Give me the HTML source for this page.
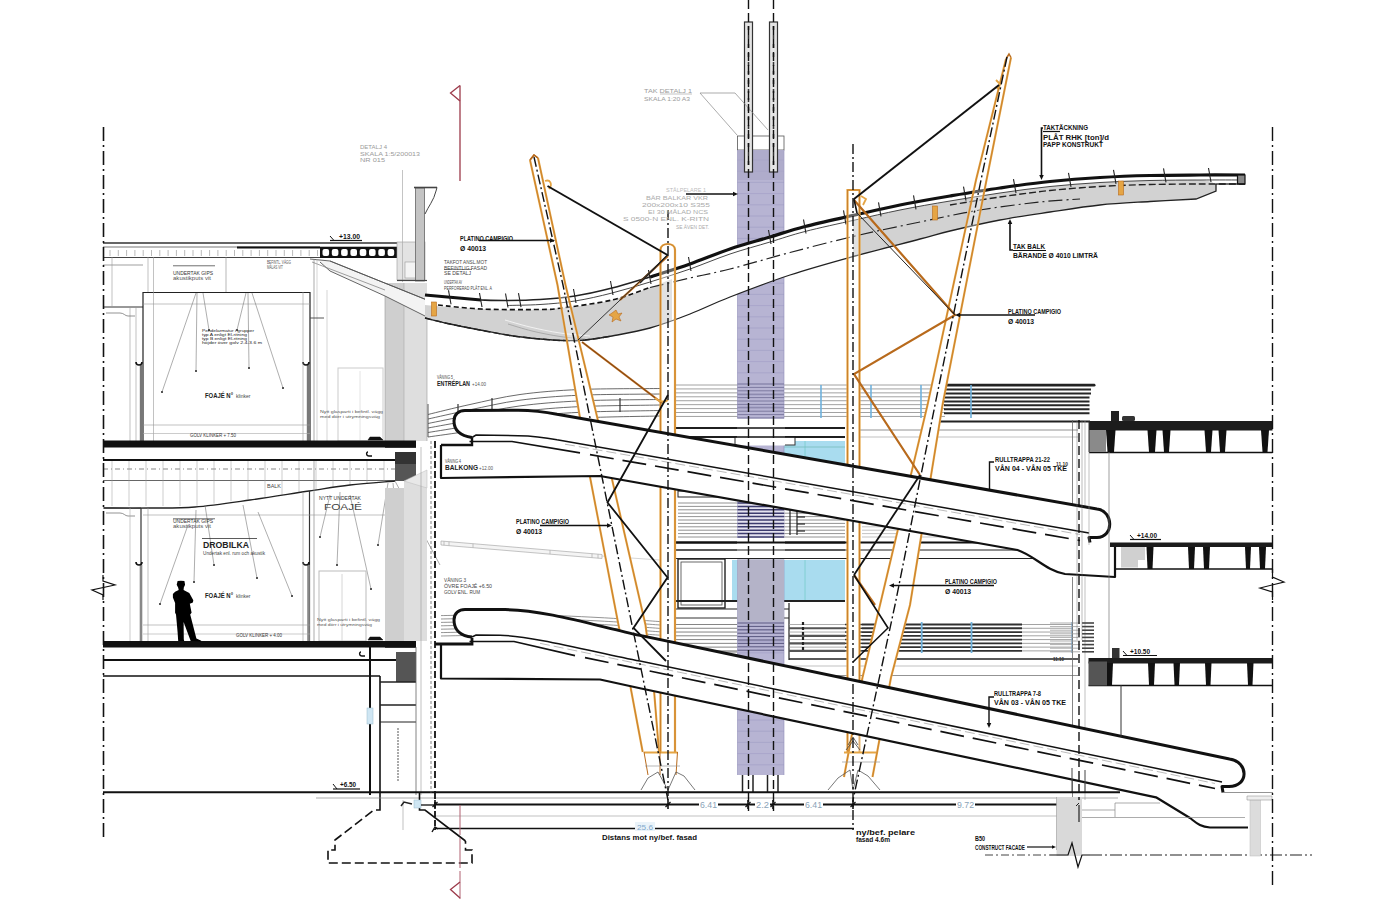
<!DOCTYPE html>
<html lang="sv"><head><meta charset="utf-8"><title>Sektion – rulltrappor och skärmtak</title>
<style>
html,body{margin:0;padding:0;background:#fff;}
body{width:1400px;height:900px;overflow:hidden;}
svg{display:block;}
svg text{font-family:"Liberation Sans",sans-serif;}
</style></head><body>
<svg width="1400" height="900" viewBox="0 0 1400 900">
<rect width="1400" height="900" fill="#fff"/>
<line x1="675" y1="385.0" x2="945" y2="385.0" stroke="#8a8a8a" stroke-width="0.8"/>
<line x1="675" y1="388.93" x2="945" y2="388.93" stroke="#8a8a8a" stroke-width="0.8"/>
<line x1="675" y1="392.86" x2="945" y2="392.86" stroke="#8a8a8a" stroke-width="0.8"/>
<line x1="675" y1="396.79" x2="945" y2="396.79" stroke="#8a8a8a" stroke-width="0.8"/>
<line x1="675" y1="400.72" x2="945" y2="400.72" stroke="#8a8a8a" stroke-width="0.8"/>
<line x1="675" y1="404.65" x2="945" y2="404.65" stroke="#8a8a8a" stroke-width="0.8"/>
<line x1="675" y1="408.58" x2="945" y2="408.58" stroke="#8a8a8a" stroke-width="0.8"/>
<line x1="675" y1="412.51" x2="945" y2="412.51" stroke="#8a8a8a" stroke-width="0.8"/>
<line x1="675" y1="416.44" x2="945" y2="416.44" stroke="#8a8a8a" stroke-width="0.8"/>
<rect x="944" y="383.8" width="151.5" height="2.8" fill="#222" stroke="none" stroke-width="1" rx="1.4"/>
<line x1="944" y1="389.6" x2="1091.0" y2="389.6" stroke="#262626" stroke-width="2.0"/>
<line x1="944" y1="393.53000000000003" x2="1091.0" y2="393.53000000000003" stroke="#262626" stroke-width="2.0"/>
<line x1="944" y1="397.46000000000004" x2="1089.5" y2="397.46000000000004" stroke="#262626" stroke-width="2.0"/>
<line x1="944" y1="401.39000000000004" x2="1089.5" y2="401.39000000000004" stroke="#262626" stroke-width="2.0"/>
<line x1="944" y1="405.32000000000005" x2="1089.5" y2="405.32000000000005" stroke="#262626" stroke-width="2.0"/>
<line x1="944" y1="409.25" x2="1089.5" y2="409.25" stroke="#262626" stroke-width="2.0"/>
<line x1="944" y1="413.18" x2="1089.5" y2="413.18" stroke="#262626" stroke-width="2.0"/>
<line x1="821" y1="385" x2="821" y2="418" stroke="#6fb1dc" stroke-width="1.6"/>
<line x1="871" y1="385" x2="871" y2="418" stroke="#6fb1dc" stroke-width="1.6"/>
<line x1="921" y1="385" x2="921" y2="418" stroke="#6fb1dc" stroke-width="1.6"/>
<line x1="971" y1="385" x2="971" y2="418" stroke="#6fb1dc" stroke-width="1.6"/>
<line x1="940" y1="421.5" x2="1090" y2="421.5" stroke="#222" stroke-width="2.2"/>
<line x1="675" y1="428" x2="845" y2="428" stroke="#111" stroke-width="1.6"/>
<line x1="675" y1="437" x2="845" y2="437" stroke="#111" stroke-width="1.6"/>
<line x1="860" y1="430" x2="1078" y2="430" stroke="#777" stroke-width="0.8"/>
<line x1="860" y1="437" x2="1078" y2="437" stroke="#999" stroke-width="0.6"/>
<rect x="784" y="441" width="61" height="30" fill="#a9dcef" stroke="none" stroke-width="1"/>
<line x1="805" y1="441" x2="805" y2="470" stroke="#7cc" stroke-width="0.8"/>
<line x1="784" y1="447" x2="845" y2="447" stroke="#7bb" stroke-width="0.8"/>
<rect x="735" y="437" width="60" height="8" fill="#fff" stroke="#333" stroke-width="1"/>
<line x1="678" y1="503.0" x2="845" y2="503.0" stroke="#777" stroke-width="0.8"/>
<line x1="678" y1="506.4" x2="845" y2="506.4" stroke="#777" stroke-width="0.8"/>
<line x1="678" y1="509.79999999999995" x2="845" y2="509.79999999999995" stroke="#777" stroke-width="0.8"/>
<line x1="678" y1="513.1999999999999" x2="845" y2="513.1999999999999" stroke="#777" stroke-width="0.8"/>
<line x1="678" y1="516.5999999999999" x2="845" y2="516.5999999999999" stroke="#777" stroke-width="0.8"/>
<line x1="678" y1="519.9999999999999" x2="845" y2="519.9999999999999" stroke="#777" stroke-width="0.8"/>
<line x1="678" y1="523.3999999999999" x2="845" y2="523.3999999999999" stroke="#777" stroke-width="0.8"/>
<line x1="678" y1="526.7999999999998" x2="845" y2="526.7999999999998" stroke="#777" stroke-width="0.8"/>
<line x1="678" y1="530.1999999999998" x2="845" y2="530.1999999999998" stroke="#777" stroke-width="0.8"/>
<line x1="678" y1="533.5999999999998" x2="845" y2="533.5999999999998" stroke="#777" stroke-width="0.8"/>
<line x1="678" y1="536.9999999999998" x2="845" y2="536.9999999999998" stroke="#777" stroke-width="0.8"/>
<line x1="862" y1="503.0" x2="1000" y2="503.0" stroke="#aaa" stroke-width="0.7"/>
<line x1="862" y1="506.4" x2="1000" y2="506.4" stroke="#aaa" stroke-width="0.7"/>
<line x1="862" y1="509.79999999999995" x2="1000" y2="509.79999999999995" stroke="#aaa" stroke-width="0.7"/>
<line x1="862" y1="513.1999999999999" x2="1000" y2="513.1999999999999" stroke="#aaa" stroke-width="0.7"/>
<line x1="862" y1="516.5999999999999" x2="1000" y2="516.5999999999999" stroke="#aaa" stroke-width="0.7"/>
<line x1="862" y1="519.9999999999999" x2="1000" y2="519.9999999999999" stroke="#aaa" stroke-width="0.7"/>
<line x1="862" y1="523.3999999999999" x2="1000" y2="523.3999999999999" stroke="#aaa" stroke-width="0.7"/>
<line x1="862" y1="526.7999999999998" x2="1000" y2="526.7999999999998" stroke="#aaa" stroke-width="0.7"/>
<line x1="862" y1="530.1999999999998" x2="1000" y2="530.1999999999998" stroke="#aaa" stroke-width="0.7"/>
<line x1="862" y1="533.5999999999998" x2="1000" y2="533.5999999999998" stroke="#aaa" stroke-width="0.7"/>
<line x1="862" y1="536.9999999999998" x2="1000" y2="536.9999999999998" stroke="#aaa" stroke-width="0.7"/>
<rect x="678" y="491" width="60" height="6" fill="#fff" stroke="#222" stroke-width="1"/>
<line x1="675" y1="542.5" x2="1002" y2="542.5" stroke="#111" stroke-width="1.8"/>
<line x1="675" y1="550" x2="1040" y2="550" stroke="#222" stroke-width="1.2"/>
<line x1="675" y1="558.5" x2="1090" y2="558.5" stroke="#222" stroke-width="1.2"/>
<line x1="790" y1="505" x2="790" y2="535" stroke="#222" stroke-width="1.2"/>
<line x1="797" y1="505" x2="797" y2="535" stroke="#222" stroke-width="1.2"/>
<line x1="797" y1="510" x2="805" y2="510" stroke="#222" stroke-width="1.2"/>
<line x1="797" y1="517" x2="805" y2="517" stroke="#222" stroke-width="1.2"/>
<line x1="797" y1="524" x2="805" y2="524" stroke="#222" stroke-width="1.2"/>
<line x1="797" y1="531" x2="805" y2="531" stroke="#222" stroke-width="1.2"/>
<rect x="678" y="559" width="47" height="49" fill="#fff" stroke="#222" stroke-width="1.4"/>
<rect x="681" y="562" width="41" height="43" fill="none" stroke="#444" stroke-width="0.8"/>
<rect x="732" y="560" width="6" height="40" fill="#a9dcef" stroke="none" stroke-width="1"/>
<rect x="784" y="560" width="61" height="40" fill="#a9dcef" stroke="none" stroke-width="1"/>
<line x1="805" y1="560" x2="805" y2="600" stroke="#7cc" stroke-width="0.8"/>
<line x1="675" y1="601" x2="845" y2="601" stroke="#222" stroke-width="2"/>
<line x1="675" y1="609" x2="845" y2="609" stroke="#222" stroke-width="1.2"/>
<line x1="675" y1="618" x2="845" y2="618" stroke="#333" stroke-width="1"/>
<rect x="789" y="603" width="56" height="50" fill="#fff" stroke="none" stroke-width="1"/>
<line x1="789" y1="603" x2="789" y2="660" stroke="#222" stroke-width="1.2"/>
<line x1="675" y1="624.5" x2="737" y2="624.5" stroke="#666" stroke-width="0.8"/>
<line x1="789" y1="624.5" x2="845" y2="624.5" stroke="#999" stroke-width="0.8"/>
<line x1="845" y1="624.5" x2="862" y2="624.5" stroke="#333" stroke-width="1.5"/>
<line x1="862" y1="624.5" x2="1022" y2="624.5" stroke="#303030" stroke-width="1.8"/>
<line x1="1022" y1="624.5" x2="1072" y2="624.5" stroke="#999" stroke-width="0.9"/>
<line x1="675" y1="628.27" x2="737" y2="628.27" stroke="#666" stroke-width="0.8"/>
<line x1="789" y1="628.27" x2="845" y2="628.27" stroke="#555" stroke-width="2.2"/>
<line x1="845" y1="628.27" x2="862" y2="628.27" stroke="#333" stroke-width="1.5"/>
<line x1="862" y1="628.27" x2="1022" y2="628.27" stroke="#303030" stroke-width="1.8"/>
<line x1="1022" y1="628.27" x2="1072" y2="628.27" stroke="#999" stroke-width="0.9"/>
<line x1="675" y1="632.04" x2="737" y2="632.04" stroke="#666" stroke-width="0.8"/>
<line x1="789" y1="632.04" x2="845" y2="632.04" stroke="#999" stroke-width="0.8"/>
<line x1="845" y1="632.04" x2="862" y2="632.04" stroke="#333" stroke-width="1.5"/>
<line x1="862" y1="632.04" x2="1022" y2="632.04" stroke="#303030" stroke-width="1.8"/>
<line x1="1022" y1="632.04" x2="1072" y2="632.04" stroke="#999" stroke-width="0.9"/>
<line x1="675" y1="635.81" x2="737" y2="635.81" stroke="#666" stroke-width="0.8"/>
<line x1="789" y1="635.81" x2="845" y2="635.81" stroke="#555" stroke-width="2.2"/>
<line x1="845" y1="635.81" x2="862" y2="635.81" stroke="#333" stroke-width="1.5"/>
<line x1="862" y1="635.81" x2="1022" y2="635.81" stroke="#303030" stroke-width="1.8"/>
<line x1="1022" y1="635.81" x2="1072" y2="635.81" stroke="#999" stroke-width="0.9"/>
<line x1="675" y1="639.58" x2="737" y2="639.58" stroke="#666" stroke-width="0.8"/>
<line x1="789" y1="639.58" x2="845" y2="639.58" stroke="#999" stroke-width="0.8"/>
<line x1="845" y1="639.58" x2="862" y2="639.58" stroke="#333" stroke-width="1.5"/>
<line x1="862" y1="639.58" x2="1022" y2="639.58" stroke="#303030" stroke-width="1.8"/>
<line x1="1022" y1="639.58" x2="1072" y2="639.58" stroke="#999" stroke-width="0.9"/>
<line x1="675" y1="643.35" x2="737" y2="643.35" stroke="#666" stroke-width="0.8"/>
<line x1="789" y1="643.35" x2="845" y2="643.35" stroke="#555" stroke-width="2.2"/>
<line x1="845" y1="643.35" x2="862" y2="643.35" stroke="#333" stroke-width="1.5"/>
<line x1="862" y1="643.35" x2="1022" y2="643.35" stroke="#303030" stroke-width="1.8"/>
<line x1="1022" y1="643.35" x2="1072" y2="643.35" stroke="#999" stroke-width="0.9"/>
<line x1="675" y1="647.12" x2="737" y2="647.12" stroke="#666" stroke-width="0.8"/>
<line x1="789" y1="647.12" x2="845" y2="647.12" stroke="#999" stroke-width="0.8"/>
<line x1="845" y1="647.12" x2="862" y2="647.12" stroke="#333" stroke-width="1.5"/>
<line x1="862" y1="647.12" x2="1022" y2="647.12" stroke="#303030" stroke-width="1.8"/>
<line x1="1022" y1="647.12" x2="1072" y2="647.12" stroke="#999" stroke-width="0.9"/>
<line x1="675" y1="650.89" x2="737" y2="650.89" stroke="#666" stroke-width="0.8"/>
<line x1="789" y1="650.89" x2="845" y2="650.89" stroke="#555" stroke-width="2.2"/>
<line x1="845" y1="650.89" x2="862" y2="650.89" stroke="#333" stroke-width="1.5"/>
<line x1="862" y1="650.89" x2="1022" y2="650.89" stroke="#303030" stroke-width="1.8"/>
<line x1="1022" y1="650.89" x2="1072" y2="650.89" stroke="#999" stroke-width="0.9"/>
<line x1="921.7" y1="622" x2="921.7" y2="653" stroke="#6fb1dc" stroke-width="1.8"/>
<line x1="971.5" y1="622" x2="971.5" y2="653" stroke="#6fb1dc" stroke-width="1.8"/>
<line x1="1072" y1="622" x2="1072" y2="653" stroke="#6fa0c8" stroke-width="1.2"/>
<line x1="803" y1="622" x2="803" y2="652" stroke="#222" stroke-width="2.2" stroke-dasharray="3 2"/>
<line x1="789" y1="659" x2="1078" y2="659" stroke="#222" stroke-width="1.5"/>
<line x1="789" y1="666" x2="1078" y2="666" stroke="#999" stroke-width="0.6"/>
<line x1="789" y1="675.5" x2="1078" y2="675.5" stroke="#777" stroke-width="0.8"/>
<line x1="1072.5" y1="420" x2="1072.5" y2="800" stroke="#666" stroke-width="0.8"/>
<line x1="1085" y1="420" x2="1085" y2="800" stroke="#999" stroke-width="0.6"/>
<line x1="1050" y1="623.0" x2="1080" y2="623.0" stroke="#999" stroke-width="0.8"/>
<line x1="1082" y1="623.0" x2="1094" y2="623.0" stroke="#444" stroke-width="1.6"/>
<line x1="1050" y1="626.6" x2="1080" y2="626.6" stroke="#999" stroke-width="0.8"/>
<line x1="1082" y1="626.6" x2="1094" y2="626.6" stroke="#444" stroke-width="1.6"/>
<line x1="1050" y1="630.2" x2="1080" y2="630.2" stroke="#999" stroke-width="0.8"/>
<line x1="1082" y1="630.2" x2="1094" y2="630.2" stroke="#444" stroke-width="1.6"/>
<line x1="1050" y1="633.8000000000001" x2="1080" y2="633.8000000000001" stroke="#999" stroke-width="0.8"/>
<line x1="1082" y1="633.8000000000001" x2="1094" y2="633.8000000000001" stroke="#444" stroke-width="1.6"/>
<line x1="1050" y1="637.4000000000001" x2="1080" y2="637.4000000000001" stroke="#999" stroke-width="0.8"/>
<line x1="1082" y1="637.4000000000001" x2="1094" y2="637.4000000000001" stroke="#444" stroke-width="1.6"/>
<line x1="1050" y1="641.0000000000001" x2="1080" y2="641.0000000000001" stroke="#999" stroke-width="0.8"/>
<line x1="1082" y1="641.0000000000001" x2="1094" y2="641.0000000000001" stroke="#444" stroke-width="1.6"/>
<line x1="1050" y1="644.6000000000001" x2="1080" y2="644.6000000000001" stroke="#999" stroke-width="0.8"/>
<line x1="1082" y1="644.6000000000001" x2="1094" y2="644.6000000000001" stroke="#444" stroke-width="1.6"/>
<line x1="1050" y1="648.2000000000002" x2="1080" y2="648.2000000000002" stroke="#999" stroke-width="0.8"/>
<line x1="1082" y1="648.2000000000002" x2="1094" y2="648.2000000000002" stroke="#444" stroke-width="1.6"/>
<line x1="1050" y1="651.8000000000002" x2="1080" y2="651.8000000000002" stroke="#999" stroke-width="0.8"/>
<line x1="1082" y1="651.8000000000002" x2="1094" y2="651.8000000000002" stroke="#444" stroke-width="1.6"/>
<line x1="675" y1="652" x2="737" y2="652" stroke="#666" stroke-width="0.8"/>
<rect x="737.5" y="136" width="46.5" height="14" fill="#fff" stroke="#555" stroke-width="0.8"/>
<rect x="737.5" y="150" width="46.5" height="625" fill="#b7b4d3" stroke="none" stroke-width="1"/>
<line x1="737.5" y1="160.0" x2="784" y2="160.0" stroke="#9f9cc4" stroke-width="0.6"/>
<line x1="737.5" y1="171.2" x2="784" y2="171.2" stroke="#9f9cc4" stroke-width="0.6"/>
<line x1="737.5" y1="182.39999999999998" x2="784" y2="182.39999999999998" stroke="#9f9cc4" stroke-width="0.6"/>
<line x1="737.5" y1="193.59999999999997" x2="784" y2="193.59999999999997" stroke="#9f9cc4" stroke-width="0.6"/>
<line x1="737.5" y1="204.79999999999995" x2="784" y2="204.79999999999995" stroke="#9f9cc4" stroke-width="0.6"/>
<line x1="737.5" y1="215.99999999999994" x2="784" y2="215.99999999999994" stroke="#9f9cc4" stroke-width="0.6"/>
<line x1="737.5" y1="227.19999999999993" x2="784" y2="227.19999999999993" stroke="#9f9cc4" stroke-width="0.6"/>
<line x1="737.5" y1="238.39999999999992" x2="784" y2="238.39999999999992" stroke="#9f9cc4" stroke-width="0.6"/>
<line x1="737.5" y1="249.5999999999999" x2="784" y2="249.5999999999999" stroke="#9f9cc4" stroke-width="0.6"/>
<line x1="737.5" y1="260.7999999999999" x2="784" y2="260.7999999999999" stroke="#9f9cc4" stroke-width="0.6"/>
<line x1="737.5" y1="271.9999999999999" x2="784" y2="271.9999999999999" stroke="#9f9cc4" stroke-width="0.6"/>
<line x1="737.5" y1="283.1999999999999" x2="784" y2="283.1999999999999" stroke="#9f9cc4" stroke-width="0.6"/>
<line x1="737.5" y1="294.39999999999986" x2="784" y2="294.39999999999986" stroke="#9f9cc4" stroke-width="0.6"/>
<line x1="737.5" y1="305.59999999999985" x2="784" y2="305.59999999999985" stroke="#9f9cc4" stroke-width="0.6"/>
<line x1="737.5" y1="316.79999999999984" x2="784" y2="316.79999999999984" stroke="#9f9cc4" stroke-width="0.6"/>
<line x1="737.5" y1="327.99999999999983" x2="784" y2="327.99999999999983" stroke="#9f9cc4" stroke-width="0.6"/>
<line x1="737.5" y1="339.1999999999998" x2="784" y2="339.1999999999998" stroke="#9f9cc4" stroke-width="0.6"/>
<line x1="737.5" y1="350.3999999999998" x2="784" y2="350.3999999999998" stroke="#9f9cc4" stroke-width="0.6"/>
<line x1="737.5" y1="361.5999999999998" x2="784" y2="361.5999999999998" stroke="#9f9cc4" stroke-width="0.6"/>
<line x1="737.5" y1="372.7999999999998" x2="784" y2="372.7999999999998" stroke="#9f9cc4" stroke-width="0.6"/>
<line x1="737.5" y1="383.9999999999998" x2="784" y2="383.9999999999998" stroke="#9f9cc4" stroke-width="0.6"/>
<line x1="737.5" y1="395.19999999999976" x2="784" y2="395.19999999999976" stroke="#9f9cc4" stroke-width="0.6"/>
<line x1="737.5" y1="406.39999999999975" x2="784" y2="406.39999999999975" stroke="#9f9cc4" stroke-width="0.6"/>
<line x1="737.5" y1="417.59999999999974" x2="784" y2="417.59999999999974" stroke="#9f9cc4" stroke-width="0.6"/>
<line x1="737.5" y1="428.7999999999997" x2="784" y2="428.7999999999997" stroke="#9f9cc4" stroke-width="0.6"/>
<line x1="737.5" y1="439.9999999999997" x2="784" y2="439.9999999999997" stroke="#9f9cc4" stroke-width="0.6"/>
<line x1="737.5" y1="451.1999999999997" x2="784" y2="451.1999999999997" stroke="#9f9cc4" stroke-width="0.6"/>
<line x1="737.5" y1="462.3999999999997" x2="784" y2="462.3999999999997" stroke="#9f9cc4" stroke-width="0.6"/>
<line x1="737.5" y1="473.5999999999997" x2="784" y2="473.5999999999997" stroke="#9f9cc4" stroke-width="0.6"/>
<line x1="737.5" y1="484.79999999999967" x2="784" y2="484.79999999999967" stroke="#9f9cc4" stroke-width="0.6"/>
<line x1="737.5" y1="495.99999999999966" x2="784" y2="495.99999999999966" stroke="#9f9cc4" stroke-width="0.6"/>
<line x1="737.5" y1="507.19999999999965" x2="784" y2="507.19999999999965" stroke="#9f9cc4" stroke-width="0.6"/>
<line x1="737.5" y1="518.3999999999996" x2="784" y2="518.3999999999996" stroke="#9f9cc4" stroke-width="0.6"/>
<line x1="737.5" y1="529.5999999999997" x2="784" y2="529.5999999999997" stroke="#9f9cc4" stroke-width="0.6"/>
<line x1="737.5" y1="540.7999999999997" x2="784" y2="540.7999999999997" stroke="#9f9cc4" stroke-width="0.6"/>
<line x1="737.5" y1="551.9999999999998" x2="784" y2="551.9999999999998" stroke="#9f9cc4" stroke-width="0.6"/>
<line x1="737.5" y1="563.1999999999998" x2="784" y2="563.1999999999998" stroke="#9f9cc4" stroke-width="0.6"/>
<line x1="737.5" y1="574.3999999999999" x2="784" y2="574.3999999999999" stroke="#9f9cc4" stroke-width="0.6"/>
<line x1="737.5" y1="585.5999999999999" x2="784" y2="585.5999999999999" stroke="#9f9cc4" stroke-width="0.6"/>
<line x1="737.5" y1="596.8" x2="784" y2="596.8" stroke="#9f9cc4" stroke-width="0.6"/>
<line x1="737.5" y1="608.0" x2="784" y2="608.0" stroke="#9f9cc4" stroke-width="0.6"/>
<line x1="737.5" y1="619.2" x2="784" y2="619.2" stroke="#9f9cc4" stroke-width="0.6"/>
<line x1="737.5" y1="630.4000000000001" x2="784" y2="630.4000000000001" stroke="#9f9cc4" stroke-width="0.6"/>
<line x1="737.5" y1="641.6000000000001" x2="784" y2="641.6000000000001" stroke="#9f9cc4" stroke-width="0.6"/>
<line x1="737.5" y1="652.8000000000002" x2="784" y2="652.8000000000002" stroke="#9f9cc4" stroke-width="0.6"/>
<line x1="737.5" y1="664.0000000000002" x2="784" y2="664.0000000000002" stroke="#9f9cc4" stroke-width="0.6"/>
<line x1="737.5" y1="675.2000000000003" x2="784" y2="675.2000000000003" stroke="#9f9cc4" stroke-width="0.6"/>
<line x1="737.5" y1="686.4000000000003" x2="784" y2="686.4000000000003" stroke="#9f9cc4" stroke-width="0.6"/>
<line x1="737.5" y1="697.6000000000004" x2="784" y2="697.6000000000004" stroke="#9f9cc4" stroke-width="0.6"/>
<line x1="737.5" y1="708.8000000000004" x2="784" y2="708.8000000000004" stroke="#9f9cc4" stroke-width="0.6"/>
<line x1="737.5" y1="720.0000000000005" x2="784" y2="720.0000000000005" stroke="#9f9cc4" stroke-width="0.6"/>
<line x1="737.5" y1="731.2000000000005" x2="784" y2="731.2000000000005" stroke="#9f9cc4" stroke-width="0.6"/>
<line x1="737.5" y1="742.4000000000005" x2="784" y2="742.4000000000005" stroke="#9f9cc4" stroke-width="0.6"/>
<line x1="737.5" y1="753.6000000000006" x2="784" y2="753.6000000000006" stroke="#9f9cc4" stroke-width="0.6"/>
<line x1="737.5" y1="764.8000000000006" x2="784" y2="764.8000000000006" stroke="#9f9cc4" stroke-width="0.6"/>
<line x1="737.5" y1="150" x2="737.5" y2="775" stroke="#908db8" stroke-width="0.6"/>
<line x1="784" y1="150" x2="784" y2="775" stroke="#908db8" stroke-width="0.6"/>
<rect x="737.5" y="150" width="46.5" height="30" fill="#aaa7c6" stroke="none" stroke-width="1" opacity="0.6"/>
<rect x="744.5" y="22" width="8" height="150" fill="#e4e4e4" stroke="#333" stroke-width="1.2"/>
<line x1="748.5" y1="26" x2="748.5" y2="170" stroke="#333" stroke-width="1.5" stroke-dasharray="4 5"/>
<rect x="769.5" y="22" width="8" height="150" fill="#e4e4e4" stroke="#333" stroke-width="1.2"/>
<line x1="773.5" y1="26" x2="773.5" y2="170" stroke="#333" stroke-width="1.5" stroke-dasharray="4 5"/>
<path d="M700,93 L735,93 L768,130" stroke="#888" stroke-width="0.7" fill="none"/>
<path d="M700,93 L737,135" stroke="#888" stroke-width="0.7" fill="none"/>
<line x1="742.5" y1="775" x2="742.5" y2="792" stroke="#222" stroke-width="1.5"/>
<line x1="753" y1="775" x2="753" y2="792" stroke="#222" stroke-width="1.5"/>
<line x1="767.5" y1="775" x2="767.5" y2="792" stroke="#222" stroke-width="1.5"/>
<line x1="778" y1="775" x2="778" y2="792" stroke="#222" stroke-width="1.5"/>
<rect x="737" y="418.5" width="48" height="27" fill="#fff" stroke="none" stroke-width="1"/>
<line x1="675" y1="428" x2="845" y2="428" stroke="#111" stroke-width="1.6"/>
<line x1="675" y1="437" x2="845" y2="437" stroke="#111" stroke-width="1.6"/>
<rect x="737" y="538" width="48" height="21.5" fill="#fff" stroke="none" stroke-width="1"/>
<line x1="675" y1="542.5" x2="845" y2="542.5" stroke="#111" stroke-width="1.8"/>
<line x1="675" y1="550" x2="845" y2="550" stroke="#222" stroke-width="1.2"/>
<line x1="675" y1="558.5" x2="845" y2="558.5" stroke="#222" stroke-width="1.2"/>
<rect x="737.5" y="500" width="46.5" height="38" fill="#e4e3f0" stroke="none" stroke-width="1"/>
<line x1="737.5" y1="384" x2="784" y2="384" stroke="#7d7aa0" stroke-width="1.0"/>
<line x1="737.5" y1="387.4" x2="784" y2="387.4" stroke="#7d7aa0" stroke-width="1.0"/>
<line x1="737.5" y1="390.79999999999995" x2="784" y2="390.79999999999995" stroke="#7d7aa0" stroke-width="1.0"/>
<line x1="737.5" y1="394.19999999999993" x2="784" y2="394.19999999999993" stroke="#7d7aa0" stroke-width="1.0"/>
<line x1="737.5" y1="397.5999999999999" x2="784" y2="397.5999999999999" stroke="#7d7aa0" stroke-width="1.0"/>
<line x1="737.5" y1="400.9999999999999" x2="784" y2="400.9999999999999" stroke="#7d7aa0" stroke-width="1.0"/>
<line x1="737.5" y1="404.39999999999986" x2="784" y2="404.39999999999986" stroke="#7d7aa0" stroke-width="1.0"/>
<line x1="737.5" y1="407.79999999999984" x2="784" y2="407.79999999999984" stroke="#7d7aa0" stroke-width="1.0"/>
<line x1="737.5" y1="411.1999999999998" x2="784" y2="411.1999999999998" stroke="#7d7aa0" stroke-width="1.0"/>
<line x1="737.5" y1="414.5999999999998" x2="784" y2="414.5999999999998" stroke="#7d7aa0" stroke-width="1.0"/>
<line x1="737.5" y1="417.9999999999998" x2="784" y2="417.9999999999998" stroke="#7d7aa0" stroke-width="1.0"/>
<line x1="737.5" y1="503" x2="784" y2="503" stroke="#3c3b6e" stroke-width="1.5"/>
<line x1="737.5" y1="506.4" x2="784" y2="506.4" stroke="#3c3b6e" stroke-width="1.5"/>
<line x1="737.5" y1="509.79999999999995" x2="784" y2="509.79999999999995" stroke="#3c3b6e" stroke-width="1.5"/>
<line x1="737.5" y1="513.1999999999999" x2="784" y2="513.1999999999999" stroke="#3c3b6e" stroke-width="1.5"/>
<line x1="737.5" y1="516.5999999999999" x2="784" y2="516.5999999999999" stroke="#3c3b6e" stroke-width="1.5"/>
<line x1="737.5" y1="519.9999999999999" x2="784" y2="519.9999999999999" stroke="#3c3b6e" stroke-width="1.5"/>
<line x1="737.5" y1="523.3999999999999" x2="784" y2="523.3999999999999" stroke="#3c3b6e" stroke-width="1.5"/>
<line x1="737.5" y1="526.7999999999998" x2="784" y2="526.7999999999998" stroke="#3c3b6e" stroke-width="1.5"/>
<line x1="737.5" y1="530.1999999999998" x2="784" y2="530.1999999999998" stroke="#3c3b6e" stroke-width="1.5"/>
<line x1="737.5" y1="533.5999999999998" x2="784" y2="533.5999999999998" stroke="#3c3b6e" stroke-width="1.5"/>
<line x1="737.5" y1="536.9999999999998" x2="784" y2="536.9999999999998" stroke="#3c3b6e" stroke-width="1.5"/>
<line x1="737.5" y1="623" x2="784" y2="623" stroke="#5a5880" stroke-width="1.0"/>
<line x1="737.5" y1="626.4" x2="784" y2="626.4" stroke="#5a5880" stroke-width="1.0"/>
<line x1="737.5" y1="629.8" x2="784" y2="629.8" stroke="#5a5880" stroke-width="1.0"/>
<line x1="737.5" y1="633.1999999999999" x2="784" y2="633.1999999999999" stroke="#5a5880" stroke-width="1.0"/>
<line x1="737.5" y1="636.5999999999999" x2="784" y2="636.5999999999999" stroke="#5a5880" stroke-width="1.0"/>
<line x1="737.5" y1="639.9999999999999" x2="784" y2="639.9999999999999" stroke="#5a5880" stroke-width="1.0"/>
<line x1="737.5" y1="643.3999999999999" x2="784" y2="643.3999999999999" stroke="#5a5880" stroke-width="1.0"/>
<line x1="737.5" y1="646.7999999999998" x2="784" y2="646.7999999999998" stroke="#5a5880" stroke-width="1.0"/>
<line x1="737.5" y1="650.1999999999998" x2="784" y2="650.1999999999998" stroke="#5a5880" stroke-width="1.0"/>
<rect x="737.5" y="559.5" width="46.5" height="62" fill="#b4b3c8" stroke="none" stroke-width="1"/>
<line x1="103" y1="243" x2="397" y2="243" stroke="#666" stroke-width="2"/>
<line x1="103" y1="247" x2="397" y2="247" stroke="#555" stroke-width="0.8"/>
<line x1="237" y1="247.5" x2="320" y2="247.5" stroke="#111" stroke-width="2.2"/>
<line x1="103" y1="257.5" x2="320" y2="257.5" stroke="#444" stroke-width="1"/>
<line x1="110" y1="250" x2="110" y2="256" stroke="#bbb" stroke-width="1"/>
<line x1="118.3" y1="250" x2="118.3" y2="256" stroke="#bbb" stroke-width="1"/>
<line x1="126.6" y1="250" x2="126.6" y2="256" stroke="#bbb" stroke-width="1"/>
<line x1="134.9" y1="250" x2="134.9" y2="256" stroke="#bbb" stroke-width="1"/>
<line x1="143.20000000000002" y1="250" x2="143.20000000000002" y2="256" stroke="#bbb" stroke-width="1"/>
<line x1="151.50000000000003" y1="250" x2="151.50000000000003" y2="256" stroke="#bbb" stroke-width="1"/>
<line x1="159.80000000000004" y1="250" x2="159.80000000000004" y2="256" stroke="#bbb" stroke-width="1"/>
<line x1="168.10000000000005" y1="250" x2="168.10000000000005" y2="256" stroke="#bbb" stroke-width="1"/>
<line x1="176.40000000000006" y1="250" x2="176.40000000000006" y2="256" stroke="#bbb" stroke-width="1"/>
<line x1="184.70000000000007" y1="250" x2="184.70000000000007" y2="256" stroke="#bbb" stroke-width="1"/>
<line x1="193.00000000000009" y1="250" x2="193.00000000000009" y2="256" stroke="#bbb" stroke-width="1"/>
<line x1="201.3000000000001" y1="250" x2="201.3000000000001" y2="256" stroke="#bbb" stroke-width="1"/>
<line x1="209.6000000000001" y1="250" x2="209.6000000000001" y2="256" stroke="#bbb" stroke-width="1"/>
<line x1="217.90000000000012" y1="250" x2="217.90000000000012" y2="256" stroke="#bbb" stroke-width="1"/>
<line x1="226.20000000000013" y1="250" x2="226.20000000000013" y2="256" stroke="#bbb" stroke-width="1"/>
<line x1="234.50000000000014" y1="250" x2="234.50000000000014" y2="256" stroke="#bbb" stroke-width="1"/>
<line x1="242.80000000000015" y1="250" x2="242.80000000000015" y2="256" stroke="#bbb" stroke-width="1"/>
<line x1="251.10000000000016" y1="250" x2="251.10000000000016" y2="256" stroke="#bbb" stroke-width="1"/>
<line x1="259.40000000000015" y1="250" x2="259.40000000000015" y2="256" stroke="#bbb" stroke-width="1"/>
<line x1="267.70000000000016" y1="250" x2="267.70000000000016" y2="256" stroke="#bbb" stroke-width="1"/>
<line x1="276.00000000000017" y1="250" x2="276.00000000000017" y2="256" stroke="#bbb" stroke-width="1"/>
<line x1="284.3000000000002" y1="250" x2="284.3000000000002" y2="256" stroke="#bbb" stroke-width="1"/>
<line x1="292.6000000000002" y1="250" x2="292.6000000000002" y2="256" stroke="#bbb" stroke-width="1"/>
<line x1="300.9000000000002" y1="250" x2="300.9000000000002" y2="256" stroke="#bbb" stroke-width="1"/>
<line x1="309.2000000000002" y1="250" x2="309.2000000000002" y2="256" stroke="#bbb" stroke-width="1"/>
<line x1="317.5000000000002" y1="250" x2="317.5000000000002" y2="256" stroke="#bbb" stroke-width="1"/>
<rect x="320" y="247" width="77" height="11" fill="#111" stroke="none" stroke-width="1"/>
<rect x="322.5" y="249" width="6.6" height="7" fill="#fff" stroke="none" stroke-width="1" rx="2"/>
<rect x="331.8" y="249" width="6.6" height="7" fill="#fff" stroke="none" stroke-width="1" rx="2"/>
<rect x="341.1" y="249" width="6.6" height="7" fill="#fff" stroke="none" stroke-width="1" rx="2"/>
<rect x="350.4" y="249" width="6.6" height="7" fill="#fff" stroke="none" stroke-width="1" rx="2"/>
<rect x="359.7" y="249" width="6.6" height="7" fill="#fff" stroke="none" stroke-width="1" rx="2"/>
<rect x="369.0" y="249" width="6.6" height="7" fill="#fff" stroke="none" stroke-width="1" rx="2"/>
<rect x="378.3" y="249" width="6.6" height="7" fill="#fff" stroke="none" stroke-width="1" rx="2"/>
<rect x="387.6" y="249" width="6.6" height="7" fill="#fff" stroke="none" stroke-width="1" rx="2"/>
<line x1="330" y1="240.5" x2="362" y2="240.5" stroke="#111" stroke-width="1.2"/>
<path d="M330,236 L334,240.5" stroke="#111" stroke-width="1" fill="none"/>
<text x="339" y="238.5" font-size="7" fill="#111" font-weight="bold" textLength="21" lengthAdjust="spacingAndGlyphs">+13.00</text>
<rect x="397" y="242" width="28" height="38" fill="#e3e3e3" stroke="#999" stroke-width="0.6"/>
<rect x="405" y="262" width="12" height="16" fill="#f4f4f4" stroke="#999" stroke-width="0.6"/>
<rect x="415.5" y="188" width="9" height="93" fill="#c4c4c4" stroke="#666" stroke-width="0.8"/>
<path d="M414,187.5 L437,187.5 L436,191 C434,200 428,207 425,214" stroke="#444" stroke-width="1" fill="none"/>
<line x1="414" y1="187.5" x2="437" y2="187.5" stroke="#444" stroke-width="1.6"/>
<line x1="402.5" y1="170" x2="402.5" y2="282" stroke="#aaa" stroke-width="0.7"/>
<line x1="397" y1="280.5" x2="427" y2="280.5" stroke="#444" stroke-width="1.2"/>
<rect x="385" y="283" width="19" height="158" fill="#cfcfcf" stroke="none" stroke-width="1"/>
<rect x="404" y="283" width="23" height="158" fill="#dedede" stroke="none" stroke-width="1"/>
<line x1="385" y1="283" x2="385" y2="441" stroke="#999" stroke-width="0.6"/>
<line x1="404" y1="283" x2="404" y2="441" stroke="#aaa" stroke-width="0.6"/>
<line x1="427" y1="320" x2="427" y2="441" stroke="#999" stroke-width="0.6"/>
<path d="M310,259 L330,261 L427,300 L427,317 L385,296 L330,271 L320,262" stroke="#555" stroke-width="0.9" fill="#f3f3f3"/>
<path d="M312,262 L385,290" stroke="#777" stroke-width="0.7" fill="none"/>
<path d="M330,261 L427,300" stroke="#555" stroke-width="0.9" fill="none"/>
<line x1="103" y1="265" x2="143" y2="265" stroke="#777" stroke-width="0.7"/>
<line x1="103" y1="307" x2="143" y2="307" stroke="#333" stroke-width="1"/>
<line x1="112" y1="257" x2="112" y2="307" stroke="#999" stroke-width="0.6"/>
<line x1="130" y1="307" x2="130" y2="441" stroke="#999" stroke-width="0.6"/>
<line x1="136" y1="307" x2="136" y2="441" stroke="#999" stroke-width="0.6"/>
<path d="M106,313 L120,313 C124,313 125,316 128,316 L135,316" stroke="#666" stroke-width="0.7" fill="none"/>
<path d="M143,441 L143,292.5 L310,292.5 L310,441" stroke="#222" stroke-width="1.2" fill="none"/>
<line x1="141" y1="365" x2="141" y2="441" stroke="#777" stroke-width="2.4"/>
<line x1="308" y1="365" x2="308" y2="441" stroke="#777" stroke-width="2.4"/>
<path d="M136,362 C136,366 142,366 142,362" stroke="#111" stroke-width="1.6" fill="none"/>
<path d="M303,362 C303,366 309,366 309,362" stroke="#111" stroke-width="1.6" fill="none"/>
<line x1="153.5" y1="257" x2="153.5" y2="441" stroke="#999" stroke-width="0.6"/>
<line x1="303" y1="292" x2="303" y2="441" stroke="#999" stroke-width="0.6"/>
<line x1="143" y1="304" x2="310" y2="304" stroke="#999" stroke-width="0.6"/>
<line x1="143" y1="425" x2="310" y2="425" stroke="#999" stroke-width="0.6"/>
<line x1="143" y1="433.5" x2="310" y2="433.5" stroke="#aaa" stroke-width="0.6"/>
<line x1="226" y1="257" x2="226" y2="292" stroke="#888" stroke-width="0.6"/>
<line x1="148" y1="257" x2="148" y2="292" stroke="#999" stroke-width="0.6"/>
<line x1="314" y1="259" x2="314" y2="441" stroke="#888" stroke-width="0.7"/>
<line x1="317" y1="259" x2="317" y2="441" stroke="#aaa" stroke-width="0.5"/>
<line x1="327" y1="290" x2="327" y2="441" stroke="#aaa" stroke-width="0.5"/>
<line x1="310" y1="318" x2="324" y2="318" stroke="#444" stroke-width="0.9"/>
<line x1="196" y1="293" x2="162" y2="392" stroke="#777" stroke-width="0.6"/>
<rect x="161" y="391" width="2" height="2" fill="#555" stroke="none" stroke-width="1"/>
<line x1="197" y1="293" x2="196" y2="371" stroke="#777" stroke-width="0.6"/>
<rect x="195" y="370" width="2" height="2" fill="#555" stroke="none" stroke-width="1"/>
<line x1="203" y1="293" x2="209" y2="330" stroke="#777" stroke-width="0.6"/>
<rect x="208" y="329" width="2" height="2" fill="#555" stroke="none" stroke-width="1"/>
<line x1="248" y1="293" x2="249" y2="368" stroke="#777" stroke-width="0.6"/>
<rect x="248" y="367" width="2" height="2" fill="#555" stroke="none" stroke-width="1"/>
<line x1="252" y1="293" x2="283" y2="388" stroke="#777" stroke-width="0.6"/>
<rect x="282" y="387" width="2" height="2" fill="#555" stroke="none" stroke-width="1"/>
<line x1="246" y1="293" x2="237" y2="330" stroke="#777" stroke-width="0.6"/>
<rect x="236" y="329" width="2" height="2" fill="#555" stroke="none" stroke-width="1"/>
<rect x="338" y="368" width="45" height="73" fill="none" stroke="#ccc" stroke-width="1"/>
<line x1="360" y1="371" x2="360" y2="441" stroke="#ddd" stroke-width="0.8"/>
<rect x="103" y="440.5" width="313" height="7" fill="#111" stroke="none" stroke-width="1"/>
<line x1="103" y1="460" x2="395" y2="460" stroke="#111" stroke-width="2"/>
<path d="M368,452 C366,452 366,456 369,456 L372,456" stroke="#111" stroke-width="1.4" fill="none"/>
<rect x="395" y="452" width="21" height="29" fill="#555" stroke="none" stroke-width="1"/>
<rect x="395" y="452" width="21" height="12" fill="#333" stroke="none" stroke-width="1"/>
<line x1="385" y1="447.5" x2="416" y2="447.5" stroke="#333" stroke-width="1"/>
<line x1="103" y1="469" x2="395" y2="469" stroke="#555" stroke-width="0.7" stroke-dasharray="5 3 1 3"/>
<line x1="103" y1="480.5" x2="395" y2="480.5" stroke="#666" stroke-width="1"/>
<line x1="112" y1="461" x2="112" y2="506.0" stroke="#999" stroke-width="0.5"/>
<line x1="129" y1="461" x2="129" y2="506.0" stroke="#999" stroke-width="0.5"/>
<line x1="146" y1="461" x2="146" y2="506.0" stroke="#999" stroke-width="0.5"/>
<line x1="163" y1="461" x2="163" y2="506.0" stroke="#999" stroke-width="0.5"/>
<line x1="180" y1="461" x2="180" y2="506.0" stroke="#999" stroke-width="0.5"/>
<line x1="197" y1="461" x2="197" y2="505.74" stroke="#999" stroke-width="0.5"/>
<line x1="214" y1="461" x2="214" y2="503.53" stroke="#999" stroke-width="0.5"/>
<line x1="231" y1="461" x2="231" y2="501.32" stroke="#999" stroke-width="0.5"/>
<line x1="248" y1="461" x2="248" y2="499.11" stroke="#999" stroke-width="0.5"/>
<line x1="265" y1="461" x2="265" y2="496.9" stroke="#999" stroke-width="0.5"/>
<line x1="282" y1="461" x2="282" y2="494.69" stroke="#999" stroke-width="0.5"/>
<line x1="299" y1="461" x2="299" y2="492.48" stroke="#999" stroke-width="0.5"/>
<line x1="316" y1="461" x2="316" y2="490.27" stroke="#999" stroke-width="0.5"/>
<line x1="333" y1="461" x2="333" y2="488.06" stroke="#999" stroke-width="0.5"/>
<line x1="350" y1="461" x2="350" y2="485.85" stroke="#999" stroke-width="0.5"/>
<line x1="367" y1="461" x2="367" y2="483.64" stroke="#999" stroke-width="0.5"/>
<line x1="384" y1="461" x2="384" y2="481.43" stroke="#999" stroke-width="0.5"/>
<path d="M104,508 C111.7,508.0 134.8,508.2 150,508 C165.2,507.8 178.3,508.3 195,507 C211.7,505.7 231.0,502.7 250,500 C269.0,497.3 292.3,493.5 309,491 C325.7,488.5 335.7,486.7 350,485 C364.3,483.3 387.5,481.7 395,481" stroke="#222" stroke-width="1.4" fill="none"/>
<line x1="103" y1="508" x2="141" y2="508" stroke="#333" stroke-width="1"/>
<path d="M106,513 L120,513 C124,513 125,516 128,516 L135,516" stroke="#666" stroke-width="0.7" fill="none"/>
<line x1="141" y1="508" x2="141" y2="641" stroke="#333" stroke-width="1.2"/>
<line x1="309.5" y1="491" x2="309.5" y2="641" stroke="#333" stroke-width="1.2"/>
<line x1="141" y1="565" x2="141" y2="641" stroke="#888" stroke-width="2.6"/>
<line x1="308.5" y1="565" x2="308.5" y2="641" stroke="#888" stroke-width="2.6"/>
<path d="M136,562 C136,566 142,566 142,562" stroke="#111" stroke-width="1.6" fill="none"/>
<path d="M303,562 C303,566 309,566 309,562" stroke="#111" stroke-width="1.6" fill="none"/>
<line x1="148" y1="508" x2="148" y2="641" stroke="#999" stroke-width="0.6"/>
<line x1="130" y1="508" x2="130" y2="641" stroke="#aaa" stroke-width="0.6"/>
<line x1="303" y1="492" x2="303" y2="641" stroke="#999" stroke-width="0.6"/>
<line x1="314" y1="461" x2="314" y2="641" stroke="#888" stroke-width="0.7"/>
<line x1="143" y1="515" x2="385" y2="515" stroke="#999" stroke-width="0.6"/>
<line x1="143" y1="625" x2="310" y2="625" stroke="#999" stroke-width="0.6"/>
<line x1="143" y1="634" x2="310" y2="634" stroke="#aaa" stroke-width="0.6"/>
<line x1="188" y1="525" x2="160" y2="604" stroke="#777" stroke-width="0.6"/>
<rect x="159" y="603" width="2" height="2" fill="#555" stroke="none" stroke-width="1"/>
<line x1="196" y1="510" x2="194" y2="582" stroke="#777" stroke-width="0.6"/>
<rect x="193" y="581" width="2" height="2" fill="#555" stroke="none" stroke-width="1"/>
<line x1="205" y1="505" x2="214" y2="565" stroke="#777" stroke-width="0.6"/>
<rect x="213" y="564" width="2" height="2" fill="#555" stroke="none" stroke-width="1"/>
<line x1="243" y1="505" x2="257" y2="578" stroke="#777" stroke-width="0.6"/>
<rect x="256" y="577" width="2" height="2" fill="#555" stroke="none" stroke-width="1"/>
<line x1="258" y1="512" x2="292" y2="596" stroke="#777" stroke-width="0.6"/>
<rect x="291" y="595" width="2" height="2" fill="#555" stroke="none" stroke-width="1"/>
<line x1="330" y1="495" x2="320" y2="537" stroke="#777" stroke-width="0.6"/>
<rect x="319" y="536" width="2" height="2" fill="#555" stroke="none" stroke-width="1"/>
<line x1="340" y1="492" x2="337" y2="565" stroke="#777" stroke-width="0.6"/>
<rect x="336" y="564" width="2" height="2" fill="#555" stroke="none" stroke-width="1"/>
<line x1="350" y1="495" x2="371" y2="589" stroke="#777" stroke-width="0.6"/>
<rect x="370" y="588" width="2" height="2" fill="#555" stroke="none" stroke-width="1"/>
<line x1="388" y1="483" x2="378" y2="545" stroke="#777" stroke-width="0.6"/>
<rect x="377" y="544" width="2" height="2" fill="#555" stroke="none" stroke-width="1"/>
<line x1="393" y1="483" x2="400" y2="560" stroke="#777" stroke-width="0.6"/>
<rect x="399" y="559" width="2" height="2" fill="#555" stroke="none" stroke-width="1"/>
<rect x="319" y="571" width="47" height="70" fill="none" stroke="#bbb" stroke-width="1"/>
<line x1="342" y1="574" x2="342" y2="641" stroke="#ccc" stroke-width="0.8"/>
<line x1="395" y1="481" x2="440" y2="565" stroke="#777" stroke-width="0.6"/>
<rect x="385" y="488" width="19" height="153" fill="#cfcfcf" stroke="none" stroke-width="1"/>
<rect x="404" y="481" width="23" height="160" fill="#dedede" stroke="none" stroke-width="1"/>
<path d="M404,481 L427,470 L427,488 Z" stroke="#bbb" stroke-width="0.5" fill="#e8e8e8"/>
<path d="M103,575 L103,581 L115,585 L92,590 L103,595 L103,600" stroke="#111" stroke-width="1.2" fill="none"/>
<rect x="103" y="641" width="313" height="6.5" fill="#111" stroke="none" stroke-width="1"/>
<line x1="103" y1="660" x2="400" y2="660" stroke="#111" stroke-width="2"/>
<line x1="103" y1="676" x2="380" y2="676" stroke="#111" stroke-width="1.6"/>
<path d="M361,652 C359,652 359,656 362,656 L365,656" stroke="#111" stroke-width="1.4" fill="none"/>
<rect x="396" y="652" width="20" height="30" fill="#555" stroke="none" stroke-width="1"/>
<line x1="385" y1="647.5" x2="416" y2="647.5" stroke="#333" stroke-width="1"/>
<path d="M368,640 L370,637 L380,637 L383,640 Z" stroke="#111" stroke-width="0.5" fill="#111"/>
<path d="M368,440 L370,437 L380,437 L383,440 Z" stroke="#111" stroke-width="0.5" fill="#111"/>
<line x1="370" y1="641" x2="370" y2="795" stroke="#111" stroke-width="2"/>
<line x1="380" y1="676" x2="380" y2="805" stroke="#111" stroke-width="1.6"/>
<line x1="380" y1="682" x2="416" y2="682" stroke="#222" stroke-width="1.4"/>
<line x1="380" y1="705" x2="416" y2="705" stroke="#222" stroke-width="1.4"/>
<line x1="380" y1="722" x2="416" y2="722" stroke="#222" stroke-width="1.2"/>
<line x1="416" y1="647" x2="416" y2="795" stroke="#666" stroke-width="0.8"/>
<line x1="421" y1="447" x2="421" y2="795" stroke="#999" stroke-width="0.6"/>
<rect x="367" y="708" width="6" height="16" fill="#cfe6f3" stroke="#9bc" stroke-width="0.5"/>
<line x1="398" y1="728" x2="398" y2="782" stroke="#aaa" stroke-width="2" stroke-dasharray="2 1"/>
<line x1="333" y1="789" x2="360" y2="789" stroke="#111" stroke-width="1.2"/>
<path d="M333,784 L337,789" stroke="#111" stroke-width="1" fill="none"/>
<text x="340" y="787" font-size="7" fill="#111" font-weight="bold" textLength="16" lengthAdjust="spacingAndGlyphs">+6.50</text>
<polygon points="180.9,580.7 184.4,581.1 185.1,584.7 183.8,587.6 183.6,590.0 189.3,593.1 193.3,600.2 192.9,602.4 189.8,603.8 191.6,612.7 190.2,614.4 196.4,638.4 201.3,640.7 200.9,641.6 190.7,641.1 183.6,622.0 183.8,639.3 184.2,641.1 178.2,641.1 177.6,632.2 176.0,614.4 175.1,612.7 175.1,602.9 172.9,597.6 172.9,594.0 175.1,591.8 178.7,590.0 178.2,587.8 176.7,584.7 177.6,581.1" fill="#000"/>
<path d="M428,437.0 C435.0,436.0 454.7,433.3 470,431.0 C485.3,428.7 501.7,425.2 520,423.0 C538.3,420.8 556.7,419.2 580,418.0 C603.3,416.8 646.7,416.3 660,416.0" stroke="#444" stroke-width="0.8" fill="none"/>
<path d="M428,432.5 C435.0,431.4 454.7,428.2 470,425.7 C485.3,423.2 501.7,419.5 520,417.3 C538.3,415.1 556.7,413.4 580,412.3 C603.3,411.2 646.7,410.8 660,410.5" stroke="#444" stroke-width="0.8" fill="none"/>
<path d="M428,428.0 C435.0,426.7 454.7,423.1 470,420.4 C485.3,417.7 501.7,413.9 520,411.6 C538.3,409.3 556.7,407.7 580,406.6 C603.3,405.5 646.7,405.3 660,405.0" stroke="#444" stroke-width="0.8" fill="none"/>
<path d="M428,423.5 C435.0,422.1 454.7,418.0 470,415.1 C485.3,412.2 501.7,408.3 520,405.9 C538.3,403.5 556.7,402.0 580,400.9 C603.3,399.8 646.7,399.7 660,399.5" stroke="#444" stroke-width="0.8" fill="none"/>
<path d="M428,419.0 C435.0,417.5 454.7,412.9 470,409.8 C485.3,406.7 501.7,402.6 520,400.2 C538.3,397.8 556.7,396.2 580,395.2 C603.3,394.2 646.7,394.2 660,394.0" stroke="#444" stroke-width="0.8" fill="none"/>
<path d="M428,414.5 C435.0,412.8 454.7,407.8 470,404.5 C485.3,401.2 501.7,397.0 520,394.5 C538.3,392.0 556.7,390.5 580,389.5 C603.3,388.5 646.7,388.7 660,388.5" stroke="#444" stroke-width="0.8" fill="none"/>
<line x1="458" y1="404" x2="458" y2="412" stroke="#333" stroke-width="1.2"/>
<line x1="492" y1="398" x2="492" y2="412" stroke="#333" stroke-width="1.2"/>
<line x1="583" y1="398" x2="583" y2="412" stroke="#333" stroke-width="1.2"/>
<line x1="620" y1="398" x2="620" y2="412" stroke="#333" stroke-width="1.2"/>
<path d="M441,636.0 C454.2,635.8 493.5,634.7 520,635.0 C546.5,635.3 576.7,636.8 600,638.0 C623.3,639.2 650.0,641.3 660,642.0" stroke="#666" stroke-width="0.7" fill="none"/>
<path d="M441,632.6 C454.2,632.4 493.5,631.3 520,631.6 C546.5,631.9 576.7,633.4 600,634.6 C623.3,635.8 650.0,637.9 660,638.6" stroke="#666" stroke-width="0.7" fill="none"/>
<path d="M441,629.2 C454.2,629.0 493.5,627.9 520,628.2 C546.5,628.5 576.7,630.0 600,631.2 C623.3,632.4 650.0,634.5 660,635.2" stroke="#666" stroke-width="0.7" fill="none"/>
<path d="M441,625.8 C454.2,625.6 493.5,624.5 520,624.8 C546.5,625.1 576.7,626.6 600,627.8 C623.3,629.0 650.0,631.1 660,631.8" stroke="#666" stroke-width="0.7" fill="none"/>
<path d="M441,622.4 C454.2,622.2 493.5,621.1 520,621.4 C546.5,621.7 576.7,623.2 600,624.4 C623.3,625.6 650.0,627.7 660,628.4" stroke="#666" stroke-width="0.7" fill="none"/>
<path d="M441,619.0 C454.2,618.8 493.5,617.7 520,618.0 C546.5,618.3 576.7,619.8 600,621.0 C623.3,622.2 650.0,624.3 660,625.0" stroke="#666" stroke-width="0.7" fill="none"/>
<path d="M441,615.6 C454.2,615.4 493.5,614.3 520,614.6 C546.5,614.9 576.7,616.4 600,617.6 C623.3,618.8 650.0,620.9 660,621.6" stroke="#666" stroke-width="0.7" fill="none"/>
<line x1="428" y1="404" x2="428" y2="437" stroke="#555" stroke-width="1"/>
<path d="M441,541 L602,554.5 L602,558.5 L441,545 Z" stroke="#aaa" stroke-width="0.7" fill="#f4f4f4"/>
<path d="M602,556 L660,560" stroke="#bbb" stroke-width="0.6" fill="none"/>
<line x1="444" y1="541.252" x2="444" y2="545.252" stroke="#aaa" stroke-width="0.7"/>
<line x1="449" y1="541.672" x2="449" y2="545.672" stroke="#aaa" stroke-width="0.7"/>
<line x1="473" y1="543.688" x2="473" y2="547.688" stroke="#aaa" stroke-width="0.7"/>
<line x1="550" y1="550.156" x2="550" y2="554.156" stroke="#aaa" stroke-width="0.7"/>
<line x1="592" y1="553.684" x2="592" y2="557.684" stroke="#aaa" stroke-width="0.7"/>
<line x1="598" y1="554.188" x2="598" y2="558.188" stroke="#aaa" stroke-width="0.7"/>
<path d="M530,160 L557.5,285 L590,477 L618.5,625 L630.7,688 L642.7,752 L659,752 L654,690 L645.5,625 L611.5,477 L565.5,285 L538,158 Z" stroke="none" stroke-width="0" fill="#fff"/>
<path d="M530,160 L534,155 L538,158" stroke="#b86a1c" stroke-width="1.5" fill="none"/>
<rect x="660.5" y="244" width="14.5" height="508" fill="#fff" stroke="none" stroke-width="1" opacity="1"/>
<rect x="847.5" y="190" width="12" height="562" fill="#fff" stroke="none" stroke-width="1"/>
<path d="M1006,59 L976,180 L927.5,405 L880,605 L862.5,677.5 L844,777 L872.5,777 L891,677.5 L910,605 L942.5,405 L986.5,180 L1011,57.5 Z" stroke="none" stroke-width="0" fill="#fff"/>
<path d="M425,295 C434.3,295.8 467.3,299.1 481,300 C494.7,300.9 497.2,300.6 507,300.5 C516.8,300.4 528.7,300.2 540,299.5 C551.3,298.8 563.0,297.9 575,296 C587.0,294.1 599.5,291.2 612,288 C624.5,284.8 637.0,281.0 650,277 C663.0,273.0 676.7,268.7 690,264 C703.3,259.3 716.7,253.5 730,249 C743.3,244.5 757.5,240.8 770,237 C782.5,233.2 790.8,230.2 805,226.5 C819.2,222.8 839.2,218.6 855,215 C870.8,211.4 884.2,208.2 900,205 C915.8,201.8 933.3,198.8 950,196 C966.7,193.2 983.3,190.4 1000,188 C1016.7,185.6 1033.3,183.2 1050,181.5 C1066.7,179.8 1083.3,178.5 1100,177.5 C1116.7,176.5 1133.3,175.9 1150,175.5 C1166.7,175.1 1184.2,175.1 1200,175 C1215.8,174.9 1237.5,175.0 1245,175 L1245,184 L1216,184 L1216,191 L1196,199  C1188.3,199.4 1166.0,200.5 1150,201.5 C1134.0,202.5 1116.7,203.2 1100,205 C1083.3,206.8 1066.7,209.5 1050,212 C1033.3,214.5 1016.7,216.8 1000,220 C983.3,223.2 963.3,227.8 950,231 C936.7,234.2 935.8,234.8 920,239 C904.2,243.2 876.7,250.0 855,256 C833.3,262.0 810.8,268.2 790,275 C769.2,281.8 746.7,290.5 730,297 C713.3,303.5 703.3,308.8 690,314 C676.7,319.2 663.0,324.3 650,328 C637.0,331.7 622.8,334.0 612,336 C601.2,338.0 593.3,339.2 585,340 C576.7,340.8 569.5,340.7 562,340.5 C554.5,340.3 548.7,339.8 540,339 C531.3,338.2 520.0,337.0 510,335.5 C500.0,334.0 490.0,331.9 480,330 C470.0,328.1 459.2,326.0 450,324 C440.8,322.0 429.2,319.0 425,318 Z" stroke="none" stroke-width="0" fill="#fff"/>
<path d="M425,305 C430.0,305.4 445.7,306.8 455,307.5 C464.3,308.2 472.3,308.6 481,309 C489.7,309.4 497.2,309.9 507,310 C516.8,310.1 530.8,309.8 540,309.5 C549.2,309.2 553.7,308.8 562,308 C570.3,307.2 581.7,305.8 590,304.5 C598.3,303.2 604.5,301.9 612,300 C619.5,298.1 628.7,295.1 635,293 C641.3,290.9 643.8,289.8 650,287.5 C656.2,285.2 668.3,280.4 672,279 L672,320.3  C668.3,321.6 660.0,325.4 650,328 C640.0,330.6 622.8,334.0 612,336 C601.2,338.0 593.3,339.2 585,340 C576.7,340.8 569.5,340.7 562,340.5 C554.5,340.3 548.7,339.8 540,339 C531.3,338.2 520.0,337.0 510,335.5 C500.0,334.0 490.0,331.9 480,330 C470.0,328.1 459.2,326.0 450,324 C440.8,322.0 429.2,319.0 425,318 Z" stroke="none" stroke-width="0" fill="#d2d2d2"/>
<path d="M853,220.46 C853.3,220.4 847.2,221.7 855,220 C862.8,218.3 884.2,213.2 900,210 C915.8,206.8 933.3,203.8 950,201 C966.7,198.2 983.3,195.4 1000,193 C1016.7,190.6 1033.3,188.2 1050,186.5 C1066.7,184.8 1083.3,183.5 1100,182.5 C1116.7,181.5 1133.3,180.9 1150,180.5 C1166.7,180.1 1189.0,179.4 1200,180 C1211.0,180.6 1213.3,183.3 1216,184 L1216,191 L1196,199  C1188.3,199.4 1166.0,200.5 1150,201.5 C1134.0,202.5 1116.7,203.2 1100,205 C1083.3,206.8 1066.7,209.5 1050,212 C1033.3,214.5 1016.7,216.8 1000,220 C983.3,223.2 963.3,227.8 950,231 C936.7,234.2 935.8,234.8 920,239 C904.2,243.2 866.2,253.1 855,256 C843.8,258.9 853.3,256.5 853,256.5846153846154 Z" stroke="none" stroke-width="0" fill="#d2d2d2"/>
<path d="M425,318 C429.2,319.0 440.8,322.0 450,324 C459.2,326.0 470.0,328.1 480,330 C490.0,331.9 500.0,334.0 510,335.5 C520.0,337.0 531.3,338.2 540,339 C548.7,339.8 554.5,340.3 562,340.5 C569.5,340.7 576.7,340.8 585,340 C593.3,339.2 601.2,338.0 612,336 C622.8,334.0 637.0,331.7 650,328 C663.0,324.3 676.7,319.2 690,314 C703.3,308.8 713.3,303.5 730,297 C746.7,290.5 769.2,281.8 790,275 C810.8,268.2 833.3,262.0 855,256 C876.7,250.0 904.2,243.2 920,239 C935.8,234.8 936.7,234.2 950,231 C963.3,227.8 983.3,223.2 1000,220 C1016.7,216.8 1033.3,214.5 1050,212 C1066.7,209.5 1083.3,206.8 1100,205 C1116.7,203.2 1134.0,202.5 1150,201.5 C1166.0,200.5 1188.3,199.4 1196,199 L1216,191 L1216,184" stroke="#222" stroke-width="1.3" fill="none"/>
<path d="M425,318 C429.2,319.0 440.8,322.0 450,324 C459.2,326.0 470.0,328.1 480,330 C490.0,331.9 500.0,334.0 510,335.5 C520.0,337.0 531.3,338.2 540,339 C548.7,339.8 554.5,340.3 562,340.5 C569.5,340.7 576.7,340.8 585,340 C593.3,339.2 607.5,336.7 612,336" stroke="#222" stroke-width="1.4" fill="none" stroke-dasharray="7 3"/>
<path d="M425,295 C434.3,295.8 471.7,299.2 481,300" stroke="#111" stroke-width="3" fill="none"/>
<path d="M481,300 C485.3,300.1 497.2,300.6 507,300.5 C516.8,300.4 528.7,300.2 540,299.5 C551.3,298.8 563.0,297.9 575,296 C587.0,294.1 599.5,291.2 612,288 C624.5,284.8 643.7,278.8 650,277" stroke="#222" stroke-width="1.6" fill="none"/>
<path d="M650,277 C656.7,274.8 676.7,268.7 690,264 C703.3,259.3 716.7,253.5 730,249 C743.3,244.5 757.5,240.8 770,237 C782.5,233.2 790.8,230.2 805,226.5 C819.2,222.8 839.2,218.6 855,215 C870.8,211.4 884.2,208.2 900,205 C915.8,201.8 933.3,198.8 950,196 C966.7,193.2 983.3,190.4 1000,188 C1016.7,185.6 1033.3,183.2 1050,181.5 C1066.7,179.8 1083.3,178.5 1100,177.5 C1116.7,176.5 1133.3,175.9 1150,175.5 C1166.7,175.1 1184.2,175.1 1200,175 C1215.8,174.9 1237.5,175.0 1245,175" stroke="#111" stroke-width="3.2" fill="none"/>
<path d="M507,305.5 C512.5,305.3 528.7,305.2 540,304.5 C551.3,303.8 563.0,302.9 575,301 C587.0,299.1 599.5,296.2 612,293 C624.5,289.8 637.0,286.0 650,282 C663.0,278.0 676.7,273.7 690,269 C703.3,264.3 716.7,258.5 730,254 C743.3,249.5 757.5,245.8 770,242 C782.5,238.2 790.8,235.2 805,231.5 C819.2,227.8 839.2,223.6 855,220 C870.8,216.4 884.2,213.2 900,210 C915.8,206.8 933.3,203.8 950,201 C966.7,198.2 983.3,195.4 1000,193 C1016.7,190.6 1033.3,188.2 1050,186.5 C1066.7,184.8 1083.3,183.5 1100,182.5 C1116.7,181.5 1133.3,180.9 1150,180.5 C1166.7,180.1 1184.2,180.1 1200,180 C1215.8,179.9 1237.5,180.0 1245,180" stroke="#333" stroke-width="0.9" fill="none"/>
<path d="M438,305 C445.2,305.7 464.0,308.2 481,309 C498.0,309.8 526.5,309.7 540,309.5 C553.5,309.3 550.0,309.6 562,308 C574.0,306.4 597.3,303.4 612,300 C626.7,296.6 643.7,289.6 650,287.5" stroke="#111" stroke-width="1.6" fill="none" stroke-dasharray="5 3"/>
<path d="M650,287.5 C656.7,285.9 676.7,281.1 690,278 C703.3,274.9 713.3,273.2 730,269 C746.7,264.8 769.2,258.0 790,252.5 C810.8,247.0 833.3,241.1 855,236 C876.7,230.9 899.2,226.3 920,222 C940.8,217.7 960.0,213.3 980,210 C1000.0,206.7 1023.3,203.8 1040,202 C1056.7,200.2 1073.3,199.5 1080,199" stroke="#222" stroke-width="1.2" fill="none" stroke-dasharray="14 4 2 4"/>
<path d="M950,205 C958.3,203.7 983.3,199.4 1000,197 C1016.7,194.6 1033.3,192.2 1050,190.5 C1066.7,188.8 1083.3,187.5 1100,186.5 C1116.7,185.5 1133.3,184.9 1150,184.5 C1166.7,184.1 1184.2,184.1 1200,184 C1215.8,183.9 1237.5,184.0 1245,184" stroke="#222" stroke-width="1.4" fill="none" stroke-dasharray="7 3"/>
<rect x="1237.5" y="175" width="7.5" height="9" fill="#888" stroke="#111" stroke-width="1.2"/>
<line x1="1216" y1="184" x2="1245" y2="184" stroke="#111" stroke-width="1.2"/>
<line x1="448.5" y1="290.23214285714283" x2="451" y2="304.23214285714283" stroke="#222" stroke-width="1.1"/>
<line x1="479.5" y1="293.0" x2="482" y2="307.0" stroke="#222" stroke-width="1.1"/>
<line x1="505.5" y1="293.5" x2="508" y2="307.5" stroke="#222" stroke-width="1.1"/>
<line x1="518.5" y1="293.1060606060606" x2="521" y2="307.1060606060606" stroke="#222" stroke-width="1.1"/>
<line x1="573.5" y1="289.0" x2="576" y2="303.0" stroke="#222" stroke-width="1.1"/>
<line x1="610.5" y1="281.0" x2="613" y2="295.0" stroke="#222" stroke-width="1.1"/>
<line x1="648.5" y1="270.0" x2="651" y2="284.0" stroke="#222" stroke-width="1.1"/>
<line x1="688.5" y1="257.0" x2="691" y2="271.0" stroke="#222" stroke-width="1.1"/>
<line x1="768.5" y1="230.0" x2="771" y2="244.0" stroke="#222" stroke-width="1.1"/>
<line x1="803.5" y1="219.5" x2="806" y2="233.5" stroke="#222" stroke-width="1.1"/>
<line x1="843.5" y1="210.3" x2="846" y2="224.3" stroke="#222" stroke-width="1.1"/>
<line x1="878.5" y1="202.44444444444446" x2="881" y2="216.44444444444446" stroke="#222" stroke-width="1.1"/>
<line x1="913.5" y1="195.3" x2="916" y2="209.3" stroke="#222" stroke-width="1.1"/>
<line x1="963.5" y1="186.6" x2="966" y2="200.6" stroke="#222" stroke-width="1.1"/>
<line x1="1013.5" y1="179.05" x2="1016" y2="193.05" stroke="#222" stroke-width="1.1"/>
<line x1="1068.5" y1="172.9" x2="1071" y2="186.9" stroke="#222" stroke-width="1.1"/>
<line x1="1113.5" y1="169.9" x2="1116" y2="183.9" stroke="#222" stroke-width="1.1"/>
<line x1="1163.5" y1="168.35" x2="1166" y2="182.35" stroke="#222" stroke-width="1.1"/>
<line x1="1208.5" y1="168.0" x2="1211" y2="182.0" stroke="#222" stroke-width="1.1"/>
<rect x="431.5" y="302" width="5" height="14" fill="#e5a545" stroke="#b86a1c" stroke-width="0.6"/>
<rect x="932.5" y="206" width="5" height="14" fill="#e5a545" stroke="#b86a1c" stroke-width="0.6"/>
<rect x="1118.5" y="181" width="5" height="14" fill="#e5a545" stroke="#b86a1c" stroke-width="0.6"/>
<path d="M612,313 l4,-3 l2,4 l4,-1 l-3,4 l2,4 l-5,-2 l-4,3 l1,-5 l-4,-2 z" stroke="#b86a1c" stroke-width="0.6" fill="#e5a545"/>
<path d="M505,320 C509.2,321.2 520.8,324.8 530,327 C539.2,329.2 550.0,331.5 560,333 C570.0,334.5 585.0,335.5 590,336" stroke="#fff" stroke-width="0.7" fill="none"/>
<path d="M508,324 C512.0,325.2 523.3,328.9 532,331 C540.7,333.1 551.2,335.2 560,336.5 C568.8,337.8 580.8,338.6 585,339" stroke="#999" stroke-width="0.7" fill="none"/>
<path d="M530,160 L557.5,285 L590,477 L618.5,625 L630.7,688 L642.7,752 L659,752 L654,690 L645.5,625 L611.5,477 L565.5,285 L538,158 Z" stroke="none" stroke-width="0" fill="#fff" opacity="0.35"/>
<path d="M530,160 L557.5,285 L590,477 L618.5,625 L630.7,688 L642.7,752" stroke="#e5a545" stroke-width="2.1" fill="none"/>
<path d="M538,158 L565.5,285 L611.5,477 L645.5,625 L654,690 L659,752" stroke="#e5a545" stroke-width="2.1" fill="none"/>
<path d="M530,160 L557.5,285 L590,477 L618.5,625 L630.7,688 L642.7,752" stroke="#b86a1c" stroke-width="0.6" fill="none"/>
<path d="M538,158 L565.5,285 L611.5,477 L645.5,625 L654,690 L659,752" stroke="#b86a1c" stroke-width="0.6" fill="none"/>
<path d="M530,160 L534,155 L538,158" stroke="#b86a1c" stroke-width="1.5" fill="none"/>
<rect x="660.5" y="244" width="14.5" height="508" fill="#fff" stroke="none" stroke-width="1" opacity="0.35"/>
<path d="M660.5,752 L660.5,250 C660.5,242 675,242 675,250 L675,752" stroke="#e5a545" stroke-width="2.2" fill="none"/>
<path d="M660.5,752 L660.5,250 C660.5,242 675,242 675,250 L675,752" stroke="#b86a1c" stroke-width="0.6" fill="none"/>
<line x1="644" y1="752.5" x2="677.5" y2="752.5" stroke="#e5a545" stroke-width="2"/>
<path d="M644,752 L648,775 M660,752 L660,775 M677.5,752 L676,775" stroke="#b86a1c" stroke-width="1" fill="none"/>
<path d="M641,790 L648,778 L658,772 L668,790 M668,790 L676,772 L684,776 L695,790" stroke="#555" stroke-width="0.8" fill="none"/>
<line x1="645" y1="766" x2="680" y2="766" stroke="#999" stroke-width="0.7"/>
<rect x="847.5" y="190" width="12" height="562" fill="#fff" stroke="none" stroke-width="1" opacity="0.35"/>
<path d="M847.5,752 L847.5,190 L859.5,190 L859.5,752" stroke="#e5a545" stroke-width="2.2" fill="none"/>
<path d="M847.5,752 L847.5,190 L859.5,190 L859.5,752" stroke="#b86a1c" stroke-width="0.6" fill="none"/>
<path d="M1006,59 L976,180 L927.5,405 L880,605 L862.5,677.5 L844,777 L872.5,777 L891,677.5 L910,605 L942.5,405 L986.5,180 L1011,57.5 Z" stroke="none" stroke-width="0" fill="#fff" opacity="0.35"/>
<path d="M1006,59 L976,180 L927.5,405 L880,605 L862.5,677.5 L844,777" stroke="#e5a545" stroke-width="2.1" fill="none"/>
<path d="M1011,57.5 L986.5,180 L942.5,405 L910,605 L891,677.5 L872.5,777" stroke="#e5a545" stroke-width="2.1" fill="none"/>
<path d="M1006,59 L976,180 L927.5,405 L880,605 L862.5,677.5 L844,777" stroke="#b86a1c" stroke-width="0.6" fill="none"/>
<path d="M1011,57.5 L986.5,180 L942.5,405 L910,605 L891,677.5 L872.5,777" stroke="#b86a1c" stroke-width="0.6" fill="none"/>
<path d="M1006,59 L1009,54 L1011,57.5" stroke="#b86a1c" stroke-width="1.5" fill="none"/>
<line x1="844" y1="752.5" x2="876" y2="752.5" stroke="#e5a545" stroke-width="2"/>
<line x1="842" y1="762" x2="880" y2="762" stroke="#999" stroke-width="0.7"/>
<path d="M828,790 L838,778 L850,770 L853,790 M853,790 L858,770 L868,776 L880,790" stroke="#555" stroke-width="0.8" fill="none"/>
<path d="M848,745 L853,737 L858,745 M846,750 L853,741 L860,750" stroke="#444" stroke-width="0.8" fill="none"/>
<path d="M582,342 L662,403" stroke="#b86a1c" stroke-width="2.2" fill="none"/>
<path d="M582,342 L662,403" stroke="#7a3d10" stroke-width="0.8" fill="none"/>
<path d="M668,256 L620,300" stroke="#b86a1c" stroke-width="2" fill="none"/>
<path d="M854,200 L955,315 L854,374 L920,475" stroke="#b86a1c" stroke-width="2.2" fill="none"/>
<path d="M854,575 L875,605" stroke="#b86a1c" stroke-width="2.2" fill="none"/>
<path d="M655,398 C660,402 664,403 668,400" stroke="#e5a545" stroke-width="2" fill="none"/>
<path d="M545,181 C550,179 553,184 549,189" stroke="#e5a545" stroke-width="1.8" fill="none"/>
<path d="M996,80 L1000,84 L997,89" stroke="#e5a545" stroke-width="1.8" fill="none"/>
<path d="M861,196 L866,199 L863,205" stroke="#e5a545" stroke-width="1.8" fill="none"/>
<path d="M441,445 L472,437.5 C462,436 454,431 454,421 C454,414 459,410.5 465,410.5 L518,410.2 Q538,410.4 557,414.3 L1097,509.0 C1114,511.0 1114,537.5 1097,537.5 L1089,537.5 L1090,542.5 L1115,542.5 L1115,577 L1065,577 C1045,570 1035,556 1017.5,550.0 L600,476 L441,478 Z" stroke="none" stroke-width="0" fill="#fff"/>
<path d="M472,437.5 C462,436 454,431 454,421 C454,414 459,410.5 465,410.5 L518,410.2 Q538,410.4 557,414.3 L1097,509.0 C1114,511.0 1114,537.5 1097,537.5 L1089,537.5 L1090,542.5" stroke="#111" stroke-width="3" fill="none" stroke-linejoin="round"/>
<path d="M472,437.5 L476,435 L518,435.7 Q538,436 557,439.8 L1089,533.1" stroke="#111" stroke-width="1.5" fill="none"/>
<path d="M469.5,441.5 L512,441.5 L580,452.8" stroke="#111" stroke-width="1.7" fill="none"/>
<path d="M590,454.6 L1080,540.5" stroke="#111" stroke-width="1.7" fill="none" stroke-dasharray="24 9"/>
<path d="M565,444.2 L1080,534.5" stroke="#777" stroke-width="0.5" fill="none" stroke-dasharray="10 4"/>
<path d="M441,445 L441,478 L600,476 L1017.5,550.0 C1035,556 1045,570 1065,574 L1115,577 L1115,547" stroke="#111" stroke-width="2.2" fill="none" stroke-linejoin="round"/>
<path d="M441,445 L472,445 L472,438" stroke="#111" stroke-width="2.4" fill="none"/>
<path d="M441,644 L472,637 C462,636 454,631 454,620 C454,613 459,609.5 465,609.5 L505,609.6 C545,609.6 600,627 640,635.4 L1229.5,759.0 C1249,762.0 1249,786.5 1229,786.5 L1222,786.5 L1223,792.5 L1273,792.5 L1273,830 L1210,827.5 C1200,827 1196.5,823 1190,818 L1156,797.3 L640,688.3 L600,679.5 L441,678.5 Z" stroke="none" stroke-width="0" fill="#fff"/>
<path d="M472,637 C462,636 454,631 454,620 C454,613 459,609.5 465,609.5 L505,609.6 C545,609.6 600,627 640,635.4 L1229.5,759.0 C1249,762.0 1249,786.5 1229,786.5 L1222,786.5 L1223,792.5" stroke="#111" stroke-width="3" fill="none" stroke-linejoin="round"/>
<path d="M472,637 L476,635 L500,635.3 C530,635.5 590,651 640,661.1 L1222,782.0" stroke="#111" stroke-width="1.5" fill="none"/>
<path d="M469.5,641.5 L514,641.5 L575,655.6" stroke="#111" stroke-width="1.7" fill="none"/>
<path d="M585,657.6 L1215,788.5" stroke="#111" stroke-width="1.7" fill="none" stroke-dasharray="24 9"/>
<path d="M540,643.3 L1215,783.5" stroke="#777" stroke-width="0.5" fill="none" stroke-dasharray="10 4"/>
<path d="M441,644 L441,678.5 L600,679.5 L640,688.3 L1156,797.3 L1190,818 C1196.5,823 1200,827 1210,827.5 L1248,827.5" stroke="#111" stroke-width="2.2" fill="none" stroke-linejoin="round"/>
<path d="M435,644 L472,644 L472,638" stroke="#111" stroke-width="2.8" fill="none"/>
<line x1="1223" y1="792.5" x2="1273" y2="792.5" stroke="#888" stroke-width="0.9"/>
<line x1="1072" y1="768" x2="1072" y2="792" stroke="#444" stroke-width="1"/>
<line x1="1085" y1="770" x2="1085" y2="792" stroke="#444" stroke-width="1"/>
<rect x="1089" y="421" width="183.5" height="9.5" fill="#1c1c1c" stroke="none" stroke-width="1"/>
<path d="M1106.0,430 L1115.5,430 L1114,452 L1107.5,452 Z" stroke="none" stroke-width="0" fill="#111"/>
<path d="M1147.5,430 L1156.5,430 L1155,452 L1149,452 Z" stroke="none" stroke-width="0" fill="#111"/>
<path d="M1162.5,430 L1170.5,430 L1169,452 L1164,452 Z" stroke="none" stroke-width="0" fill="#111"/>
<path d="M1204.5,430 L1212.5,430 L1211,452 L1206,452 Z" stroke="none" stroke-width="0" fill="#111"/>
<path d="M1218.5,430 L1226.5,430 L1225,452 L1220,452 Z" stroke="none" stroke-width="0" fill="#111"/>
<path d="M1261.0,430 L1269.0,430 L1267.5,452 L1262.5,452 Z" stroke="none" stroke-width="0" fill="#111"/>
<line x1="1089" y1="452.5" x2="1272.5" y2="452.5" stroke="#111" stroke-width="1.6"/>
<rect x="1089" y="430" width="17" height="22" fill="#8a8a8a" stroke="none" stroke-width="1"/>
<rect x="1111" y="411" width="8" height="10" fill="#222" stroke="none" stroke-width="1"/>
<rect x="1122" y="416" width="13" height="5" fill="#333" stroke="none" stroke-width="1" rx="1.5"/>
<line x1="1089" y1="421" x2="1089" y2="452" stroke="#333" stroke-width="1"/>
<line x1="1109" y1="452" x2="1109" y2="600" stroke="#777" stroke-width="0.7"/>
<rect x="1110" y="542.5" width="162.5" height="4.5" fill="#1c1c1c" stroke="none" stroke-width="1"/>
<path d="M1146.5,547 L1153.5,547 L1152.5,569 L1147.5,569 Z" stroke="none" stroke-width="0" fill="#111"/>
<path d="M1188,547 L1195,547 L1194,569 L1189,569 Z" stroke="none" stroke-width="0" fill="#111"/>
<path d="M1203,547 L1210,547 L1209,569 L1204,569 Z" stroke="none" stroke-width="0" fill="#111"/>
<path d="M1245,547 L1251,547 L1250,569 L1246,569 Z" stroke="none" stroke-width="0" fill="#111"/>
<path d="M1259,547 L1266,547 L1265,569 L1260,569 Z" stroke="none" stroke-width="0" fill="#111"/>
<line x1="1115" y1="569" x2="1272.5" y2="569" stroke="#111" stroke-width="1.6"/>
<rect x="1121" y="547" width="24" height="20.5" fill="#d0d0d0" stroke="none" stroke-width="1"/>
<rect x="1138" y="560" width="8" height="8" fill="#fff" stroke="none" stroke-width="1"/>
<line x1="1130" y1="539.5" x2="1161" y2="539.5" stroke="#111" stroke-width="1.2"/>
<path d="M1130,535 L1134,539.5" stroke="#111" stroke-width="1" fill="none"/>
<text x="1137" y="537.5" font-size="7" fill="#111" font-weight="bold" textLength="20" lengthAdjust="spacingAndGlyphs">+14.00</text>
<path d="M1272.5,569 L1272.5,577 L1284,582 L1260,588 L1272.5,592 L1272.5,600" stroke="#111" stroke-width="1.2" fill="none"/>
<rect x="1088.5" y="658" width="184" height="5.5" fill="#1c1c1c" stroke="none" stroke-width="1"/>
<path d="M1106,663 L1113,663 L1112,685 L1107,685 Z" stroke="none" stroke-width="0" fill="#111"/>
<path d="M1148,663 L1155,663 L1154,685 L1149,685 Z" stroke="none" stroke-width="0" fill="#111"/>
<path d="M1173.5,663 L1180,663 L1179,685 L1174.5,685 Z" stroke="none" stroke-width="0" fill="#111"/>
<path d="M1205,663 L1211.5,663 L1210.5,685 L1206,685 Z" stroke="none" stroke-width="0" fill="#111"/>
<path d="M1247,663 L1253.5,663 L1252.5,685 L1248,685 Z" stroke="none" stroke-width="0" fill="#111"/>
<line x1="1088.5" y1="685.5" x2="1272.5" y2="685.5" stroke="#111" stroke-width="1.6"/>
<rect x="1088.5" y="661.5" width="18.5" height="24" fill="#555" stroke="none" stroke-width="1"/>
<rect x="1112" y="648" width="7.5" height="10" fill="#333" stroke="none" stroke-width="1"/>
<line x1="1123" y1="655.5" x2="1157" y2="655.5" stroke="#111" stroke-width="1.2"/>
<path d="M1123,651 L1127,655.5" stroke="#111" stroke-width="1" fill="none"/>
<text x="1130" y="653.5" font-size="7" fill="#111" font-weight="bold" textLength="20" lengthAdjust="spacingAndGlyphs">+10.50</text>
<line x1="1121" y1="685" x2="1121" y2="737" stroke="#333" stroke-width="1"/>
<line x1="1109" y1="600" x2="1109" y2="658" stroke="#777" stroke-width="0.7"/>
<line x1="1089" y1="452" x2="1089" y2="545" stroke="#999" stroke-width="0.6"/>
<line x1="103" y1="792.3" x2="1120" y2="792.3" stroke="#111" stroke-width="2"/>
<line x1="316" y1="798" x2="1118" y2="798" stroke="#888" stroke-width="0.7"/>
<path d="M380,805 L380,810 L374,810 L335,840 L335,850 L328,850 L328,863 L472,863 L472,850 L465.5,850 L465.5,841" stroke="#111" stroke-width="1.6" fill="none" stroke-dasharray="9 4"/>
<path d="M465.5,841 L425,810 L419.5,810 L419.5,793" stroke="#111" stroke-width="1.6" fill="none"/>
<line x1="403" y1="800" x2="403" y2="830" stroke="#999" stroke-width="0.6"/>
<path d="M401,806 L404,802 L412,804" stroke="#222" stroke-width="1.5" fill="none"/>
<rect x="414" y="800" width="7" height="8" fill="#cfe6f3" stroke="#9bc" stroke-width="0.5"/>
<line x1="421" y1="805" x2="435" y2="805" stroke="#222" stroke-width="1.4"/>
<line x1="435" y1="804.5" x2="1079" y2="804.5" stroke="#111" stroke-width="1.8"/>
<line x1="435" y1="816" x2="1075" y2="816" stroke="#999" stroke-width="0.6"/>
<line x1="435" y1="828.5" x2="854" y2="828.5" stroke="#111" stroke-width="1.6"/>
<path d="M432,832 L435,827 L438,829" stroke="#111" stroke-width="1.4" fill="none"/>
<line x1="435" y1="793" x2="435" y2="830" stroke="#111" stroke-width="1.8" stroke-dasharray="6 3"/>
<line x1="435" y1="800" x2="435" y2="809" stroke="#111" stroke-width="1.6"/>
<line x1="432.5" y1="807" x2="437.5" y2="802" stroke="#111" stroke-width="1.2"/>
<line x1="668" y1="800" x2="668" y2="809" stroke="#111" stroke-width="1.6"/>
<line x1="665.5" y1="807" x2="670.5" y2="802" stroke="#111" stroke-width="1.2"/>
<line x1="748" y1="800" x2="748" y2="809" stroke="#111" stroke-width="1.6"/>
<line x1="745.5" y1="807" x2="750.5" y2="802" stroke="#111" stroke-width="1.2"/>
<line x1="773" y1="800" x2="773" y2="809" stroke="#111" stroke-width="1.6"/>
<line x1="770.5" y1="807" x2="775.5" y2="802" stroke="#111" stroke-width="1.2"/>
<line x1="853" y1="800" x2="853" y2="809" stroke="#111" stroke-width="1.6"/>
<line x1="850.5" y1="807" x2="855.5" y2="802" stroke="#111" stroke-width="1.2"/>
<line x1="1079" y1="800" x2="1079" y2="809" stroke="#111" stroke-width="1.6"/>
<line x1="1076.5" y1="807" x2="1081.5" y2="802" stroke="#111" stroke-width="1.2"/>
<rect x="699" y="801" width="19" height="7" fill="#fff" stroke="none" stroke-width="1"/>
<text x="700" y="807.5" font-size="9.5" fill="#8aa3b8" font-weight="normal" textLength="17" lengthAdjust="spacingAndGlyphs">6.41</text>
<rect x="755" y="801" width="15" height="7" fill="#fff" stroke="none" stroke-width="1"/>
<text x="756" y="807.5" font-size="9.5" fill="#8aa3b8" font-weight="normal" textLength="13" lengthAdjust="spacingAndGlyphs">2.2</text>
<rect x="804" y="801" width="19" height="7" fill="#fff" stroke="none" stroke-width="1"/>
<text x="805" y="807.5" font-size="9.5" fill="#8aa3b8" font-weight="normal" textLength="17" lengthAdjust="spacingAndGlyphs">6.41</text>
<rect x="956" y="801" width="19" height="7" fill="#fff" stroke="none" stroke-width="1"/>
<text x="957" y="807.5" font-size="9.5" fill="#8aa3b8" font-weight="normal" textLength="17" lengthAdjust="spacingAndGlyphs">9.72</text>
<rect x="635" y="822" width="20" height="9" fill="#eaf3f9" stroke="none" stroke-width="1"/>
<text x="637" y="829.5" font-size="8" fill="#7fa8cc" font-weight="normal" textLength="16" lengthAdjust="spacingAndGlyphs">25.6</text>
<text x="602" y="839.5" font-size="7" fill="#111" font-weight="bold" textLength="95" lengthAdjust="spacingAndGlyphs">Distans mot ny/bef. fasad</text>
<line x1="460" y1="85.5" x2="460" y2="181" stroke="#9c3a4a" stroke-width="1.3"/>
<path d="M460,85.5 L450.5,93 L460,101" stroke="#9c3a4a" stroke-width="1.3" fill="none"/>
<line x1="460" y1="805" x2="460" y2="899" stroke="#b06070" stroke-width="1.0" stroke-dasharray="30 3"/>
<path d="M460,882 L450.5,889.5 L460,898" stroke="#9c3a4a" stroke-width="1.3" fill="none"/>
<text x="856" y="834.5" font-size="7" fill="#111" font-weight="bold" textLength="59" lengthAdjust="spacingAndGlyphs">ny/bef. pelare</text>
<text x="856" y="842" font-size="7" fill="#111" font-weight="bold" textLength="34" lengthAdjust="spacingAndGlyphs">fasad 4.6m</text>
<rect x="1056.5" y="797" width="25.5" height="59" fill="#d9d9d9" stroke="none" stroke-width="1"/>
<line x1="1056.5" y1="797" x2="1056.5" y2="850" stroke="#999" stroke-width="0.6"/>
<path d="M1050,855 L1068,855 L1072,843 L1078,867 L1082,855 L1090,855" stroke="#111" stroke-width="1.2" fill="none"/>
<line x1="1090" y1="855" x2="1312" y2="855" stroke="#222" stroke-width="1.2" stroke-dasharray="12 3 2 3"/>
<line x1="985" y1="855" x2="1050" y2="855" stroke="#444" stroke-width="1.0" stroke-dasharray="8 3 2 3"/>
<line x1="1079" y1="805" x2="1079" y2="822" stroke="#222" stroke-width="1.2"/>
<path d="M1076,806 L1079,803" stroke="#222" stroke-width="1" fill="none"/>
<line x1="1082" y1="817.5" x2="1245" y2="817.5" stroke="#888" stroke-width="0.7"/>
<line x1="1082" y1="810" x2="1115" y2="810" stroke="#888" stroke-width="0.7"/>
<line x1="1115" y1="803" x2="1115" y2="817" stroke="#888" stroke-width="0.7"/>
<line x1="1115" y1="803" x2="1160" y2="803" stroke="#888" stroke-width="0.7"/>
<rect x="1250" y="798" width="10.5" height="58" fill="#dcdcdc" stroke="#bbb" stroke-width="0.5"/>
<path d="M1247,796 L1272,796 L1272,800 L1247,800 Z" stroke="#999" stroke-width="0.6" fill="#eee"/>
<text x="975" y="841" font-size="6.5" fill="#111" font-weight="bold" textLength="10" lengthAdjust="spacingAndGlyphs">B50</text>
<text x="975" y="850" font-size="6.5" fill="#111" font-weight="bold" textLength="50" lengthAdjust="spacingAndGlyphs">CONSTRUCT FACADE</text>
<line x1="1027" y1="847" x2="1054" y2="847" stroke="#111" stroke-width="1.2"/>
<polygon points="1056,847 1052,845.2 1052,848.8" fill="#111"/>
<line x1="547.5" y1="186" x2="667.5" y2="255" stroke="#111" stroke-width="2"/>
<path d="M667.5,255 L640,283" stroke="#222" stroke-width="1.4" fill="none"/>
<path d="M667.5,255 L578,340" stroke="#222" stroke-width="0.9" fill="none"/>
<line x1="999" y1="85" x2="854" y2="199" stroke="#111" stroke-width="2"/>
<path d="M854,199 L857,213" stroke="#111" stroke-width="1.6" fill="none"/>
<path d="M857,213 L955,315" stroke="#222" stroke-width="1.0" fill="none"/>
<path d="M668,395 L607.5,502.5 L667.5,577.5 L633.5,628 L666,661" stroke="#111" stroke-width="1.8" fill="none"/>
<path d="M920,475 L854,575" stroke="#111" stroke-width="1.8" fill="none"/>
<path d="M854,575 L888,628 L853,662" stroke="#111" stroke-width="1.6" fill="none"/>
<path d="M534,157 L563,285 L602,477 L632,625 L668,800" stroke="#111" stroke-width="1.4" fill="none" stroke-dasharray="10 3 2 3"/>
<path d="M1007,57 L981,180 L935,405 L895,605 L853,800" stroke="#111" stroke-width="1.4" fill="none" stroke-dasharray="10 3 2 3"/>
<line x1="103.5" y1="127" x2="103.5" y2="840" stroke="#111" stroke-width="1.6" stroke-dasharray="14 4 2 4"/>
<line x1="1272.5" y1="127" x2="1272.5" y2="889" stroke="#111" stroke-width="1.4" stroke-dasharray="14 4 2 4"/>
<line x1="435" y1="441" x2="435" y2="793" stroke="#111" stroke-width="1.8" stroke-dasharray="7 3"/>
<line x1="431" y1="441" x2="431" y2="793" stroke="#555" stroke-width="0.7" stroke-dasharray="3 2"/>
<line x1="668" y1="210" x2="668" y2="800" stroke="#111" stroke-width="1.4" stroke-dasharray="10 3 2 3"/>
<line x1="748.5" y1="0" x2="748.5" y2="811" stroke="#111" stroke-width="1.4" stroke-dasharray="9 4"/>
<line x1="773.5" y1="0" x2="773.5" y2="811" stroke="#111" stroke-width="1.4" stroke-dasharray="9 4"/>
<line x1="853" y1="144" x2="853" y2="830" stroke="#111" stroke-width="1.4" stroke-dasharray="10 3 2 3"/>
<line x1="1079" y1="420" x2="1079" y2="800" stroke="#111" stroke-width="1.4" stroke-dasharray="9 4"/>
<line x1="1077" y1="420" x2="1077" y2="640" stroke="#777" stroke-width="0.5"/>
<line x1="1082" y1="420" x2="1082" y2="640" stroke="#777" stroke-width="0.5"/>
<text x="460" y="240.5" font-size="7.5" fill="#111" font-weight="bold" textLength="53" lengthAdjust="spacingAndGlyphs">PLATINO CAMPIGIO</text>
<text x="460" y="250.5" font-size="7.5" fill="#111" font-weight="bold" textLength="26" lengthAdjust="spacingAndGlyphs">Ø 40013</text>
<line x1="479" y1="240.5" x2="551" y2="240.5" stroke="#111" stroke-width="1.4"/>
<polygon points="555,240.5 550,238.25 550,242.75" fill="#111"/>
<text x="516" y="524" font-size="7.5" fill="#111" font-weight="bold" textLength="53" lengthAdjust="spacingAndGlyphs">PLATINO CAMPIGIO</text>
<text x="516" y="534" font-size="7.5" fill="#111" font-weight="bold" textLength="26" lengthAdjust="spacingAndGlyphs">Ø 40013</text>
<line x1="540" y1="525.5" x2="608" y2="525.5" stroke="#111" stroke-width="1.4"/>
<polygon points="612,525.5 607,523.25 607,527.75" fill="#111"/>
<text x="1008" y="314" font-size="7.5" fill="#111" font-weight="bold" textLength="53" lengthAdjust="spacingAndGlyphs">PLATINO CAMPIGIO</text>
<text x="1008" y="323.5" font-size="7.5" fill="#111" font-weight="bold" textLength="26" lengthAdjust="spacingAndGlyphs">Ø 40013</text>
<line x1="959" y1="315" x2="1035" y2="315" stroke="#111" stroke-width="1.4"/>
<polygon points="955,315 960,312.75 960,317.25" fill="#111"/>
<text x="945" y="584" font-size="7.5" fill="#111" font-weight="bold" textLength="52" lengthAdjust="spacingAndGlyphs">PLATINO CAMPIGIO</text>
<text x="945" y="593.5" font-size="7.5" fill="#111" font-weight="bold" textLength="26" lengthAdjust="spacingAndGlyphs">Ø 40013</text>
<line x1="893" y1="585.5" x2="994" y2="585.5" stroke="#111" stroke-width="1.4"/>
<polygon points="889,585.5 894,583.25 894,587.75" fill="#111"/>
<text x="995" y="462" font-size="7.5" fill="#111" font-weight="bold" textLength="55" lengthAdjust="spacingAndGlyphs">RULLTRAPPA 21-22</text>
<text x="995" y="471" font-size="7.5" fill="#111" font-weight="bold" textLength="72" lengthAdjust="spacingAndGlyphs">VÅN 04 - VÅN 05 TKE</text>
<path d="M994,462 L989.5,462 L989.5,490" stroke="#111" stroke-width="1.4" fill="none"/>
<text x="994" y="696" font-size="7.5" fill="#111" font-weight="bold" textLength="47" lengthAdjust="spacingAndGlyphs">RULLTRAPPA 7-8</text>
<text x="994" y="705" font-size="7.5" fill="#111" font-weight="bold" textLength="72" lengthAdjust="spacingAndGlyphs">VÅN 03 - VÅN 05 TKE</text>
<path d="M994,697 L989,697 L989,724" stroke="#111" stroke-width="1.4" fill="none"/>
<polygon points="989,728 986.75,723 991.25,723" fill="#111"/>
<text x="1043" y="130" font-size="7.5" fill="#111" font-weight="bold" textLength="45" lengthAdjust="spacingAndGlyphs">TAKTÄCKNING</text>
<line x1="1043" y1="131.5" x2="1060" y2="131.5" stroke="#111" stroke-width="1.2"/>
<text x="1043" y="139.5" font-size="7.5" fill="#111" font-weight="bold" textLength="66" lengthAdjust="spacingAndGlyphs">PLÅT RHK [ton]/d</text>
<text x="1043" y="147" font-size="7.5" fill="#111" font-weight="bold" textLength="60" lengthAdjust="spacingAndGlyphs">PAPP KONSTRUKT</text>
<path d="M1043,128 L1041.5,128 L1041.5,176" stroke="#111" stroke-width="1.6" fill="none"/>
<polygon points="1041.5,180 1039.25,175 1043.75,175" fill="#111"/>
<text x="1013" y="249" font-size="7.5" fill="#111" font-weight="bold" textLength="32" lengthAdjust="spacingAndGlyphs">TAK BALK</text>
<line x1="1013" y1="250.5" x2="1046" y2="250.5" stroke="#111" stroke-width="1"/>
<text x="1013" y="257.5" font-size="7.5" fill="#111" font-weight="bold" textLength="85" lengthAdjust="spacingAndGlyphs">BÄRANDE Ø 4010 LIMTRÄ</text>
<path d="M1013,250 L1010,250 L1010,223" stroke="#111" stroke-width="1.6" fill="none"/>
<polygon points="1010,219 1007.75,224 1012.25,224" fill="#111"/>
<line x1="686" y1="194" x2="734" y2="194" stroke="#111" stroke-width="1.4"/>
<polygon points="738,194 733,191.75 733,196.25" fill="#111"/>
<text x="360" y="149" font-size="6" fill="#9a9a9a" font-weight="normal" textLength="27" lengthAdjust="spacingAndGlyphs">DETALJ 4</text>
<text x="360" y="156" font-size="6" fill="#9a9a9a" font-weight="normal" textLength="60" lengthAdjust="spacingAndGlyphs">SKALA 1:5/200013</text>
<text x="360" y="162" font-size="6" fill="#9a9a9a" font-weight="normal" textLength="25" lengthAdjust="spacingAndGlyphs">NR 015</text>
<text x="644" y="93" font-size="6" fill="#9a9a9a" font-weight="normal" textLength="48" lengthAdjust="spacingAndGlyphs">TAK DETALJ 1</text>
<line x1="660" y1="94" x2="692" y2="94" stroke="#9a9a9a" stroke-width="0.6"/>
<text x="644" y="101" font-size="6" fill="#9a9a9a" font-weight="normal" textLength="46" lengthAdjust="spacingAndGlyphs">SKALA 1:20 A3</text>
<text x="666" y="192" font-size="6" fill="#bbb" font-weight="normal" textLength="40" lengthAdjust="spacingAndGlyphs">STÅLPELARE 1</text>
<text x="646" y="199.5" font-size="6" fill="#aaa" font-weight="normal" textLength="62" lengthAdjust="spacingAndGlyphs">BÄR BALKAR VKR</text>
<text x="642" y="206.8" font-size="6" fill="#aaa" font-weight="normal" textLength="68" lengthAdjust="spacingAndGlyphs">200x200x10 S355</text>
<text x="648" y="214.1" font-size="6" fill="#aaa" font-weight="normal" textLength="60" lengthAdjust="spacingAndGlyphs">EI 30 MÅLAD NCS</text>
<text x="623" y="221.4" font-size="6" fill="#aaa" font-weight="normal" textLength="86" lengthAdjust="spacingAndGlyphs">S 0500-N ENL. K-RITN</text>
<text x="676" y="228.7" font-size="6" fill="#aaa" font-weight="normal" textLength="33" lengthAdjust="spacingAndGlyphs">SE ÄVEN DET.</text>
<text x="444" y="264.0" font-size="5" fill="#444" font-weight="normal" textLength="43" lengthAdjust="spacingAndGlyphs">TAKFOT ANSL.MOT</text>
<text x="444" y="269.5" font-size="5" fill="#444" font-weight="normal" textLength="43" lengthAdjust="spacingAndGlyphs">BEFINTLIG FASAD</text>
<text x="444" y="275.0" font-size="5" fill="#444" font-weight="normal" textLength="27" lengthAdjust="spacingAndGlyphs">SE DETALJ</text>
<line x1="444" y1="269.5" x2="472" y2="269.5" stroke="#444" stroke-width="0.6"/>
<text x="444" y="284" font-size="5" fill="#444" font-weight="normal" textLength="18" lengthAdjust="spacingAndGlyphs">UNDERTAK AV</text>
<text x="444" y="289.5" font-size="5" fill="#444" font-weight="normal" textLength="48" lengthAdjust="spacingAndGlyphs">PERFORERAD PLÅT ENL. A</text>
<text x="437" y="379" font-size="5" fill="#444" font-weight="normal" textLength="16" lengthAdjust="spacingAndGlyphs">VÅNING 5</text>
<text x="437" y="386" font-size="7" fill="#222" font-weight="bold" textLength="33" lengthAdjust="spacingAndGlyphs">ENTRÉPLAN</text>
<text x="472" y="386" font-size="4.5" fill="#555" font-weight="normal">+14.00</text>
<text x="445" y="463" font-size="5" fill="#444" font-weight="normal" textLength="16" lengthAdjust="spacingAndGlyphs">VÅNING 4</text>
<text x="445" y="470" font-size="7" fill="#222" font-weight="bold" textLength="33" lengthAdjust="spacingAndGlyphs">BALKONG</text>
<text x="479" y="470" font-size="4.5" fill="#555" font-weight="normal">+12.00</text>
<text x="444" y="582" font-size="5" fill="#444" font-weight="normal" textLength="22" lengthAdjust="spacingAndGlyphs">VÅNING 3</text>
<text x="444" y="588" font-size="5" fill="#444" font-weight="normal" textLength="48" lengthAdjust="spacingAndGlyphs">ÖVRE FOAJÉ +6.50</text>
<text x="444" y="594" font-size="5" fill="#444" font-weight="normal" textLength="36" lengthAdjust="spacingAndGlyphs">GOLV ENL. RUM</text>
<text x="205" y="398" font-size="8" fill="#222" font-weight="bold" textLength="28" lengthAdjust="spacingAndGlyphs">FOAJÉ N°</text>
<text x="236" y="398" font-size="5" fill="#444" font-weight="normal">klinker</text>
<text x="203" y="548" font-size="9" fill="#222" font-weight="bold" textLength="46" lengthAdjust="spacingAndGlyphs">DROBILKA</text>
<text x="203" y="555" font-size="4.5" fill="#444" font-weight="normal" textLength="62" lengthAdjust="spacingAndGlyphs">Undertak enl. rum och akustik</text>
<rect x="202" y="538" width="55" height="0.8" fill="#333" stroke="none" stroke-width="1"/>
<text x="205" y="598" font-size="8" fill="#222" font-weight="bold" textLength="28" lengthAdjust="spacingAndGlyphs">FOAJÉ N°</text>
<text x="236" y="598" font-size="5" fill="#444" font-weight="normal">klinker</text>
<text x="173" y="275" font-size="5" fill="#333" font-weight="normal" textLength="40" lengthAdjust="spacingAndGlyphs">UNDERTAK GIPS</text>
<text x="173" y="280" font-size="4.5" fill="#555" font-weight="normal" textLength="38" lengthAdjust="spacingAndGlyphs">akustikputs vit</text>
<rect x="173" y="265.5" width="42" height="0.7" fill="#333" stroke="none" stroke-width="1"/>
<text x="173" y="523" font-size="5" fill="#333" font-weight="normal" textLength="40" lengthAdjust="spacingAndGlyphs">UNDERTAK GIPS</text>
<text x="173" y="528" font-size="4.5" fill="#555" font-weight="normal" textLength="38" lengthAdjust="spacingAndGlyphs">akustikputs vit</text>
<rect x="173" y="518.5" width="42" height="0.7" fill="#333" stroke="none" stroke-width="1"/>
<text x="267" y="264" font-size="4.5" fill="#555" font-weight="normal" textLength="24" lengthAdjust="spacingAndGlyphs">BEFINTL. VÄGG</text>
<text x="267" y="269" font-size="4.5" fill="#555" font-weight="normal" textLength="16" lengthAdjust="spacingAndGlyphs">MÅLAS VIT</text>
<text x="202" y="331.5" font-size="4.2" fill="#222" font-weight="normal" textLength="52" lengthAdjust="spacingAndGlyphs">Pendelarmatur i grupper</text>
<text x="202" y="335.8" font-size="4.2" fill="#222" font-weight="normal" textLength="45" lengthAdjust="spacingAndGlyphs">typ A enligt El-ritning</text>
<text x="202" y="340.1" font-size="4.2" fill="#222" font-weight="normal" textLength="45" lengthAdjust="spacingAndGlyphs">typ B enligt El-ritning</text>
<text x="202" y="344.4" font-size="4.2" fill="#222" font-weight="normal" textLength="60" lengthAdjust="spacingAndGlyphs">höjder över golv 2.4-3.6 m</text>
<text x="190" y="437" font-size="4.8" fill="#333" font-weight="normal" textLength="46" lengthAdjust="spacingAndGlyphs">GOLV KLINKER + 7.50</text>
<text x="236" y="637" font-size="4.8" fill="#333" font-weight="normal" textLength="46" lengthAdjust="spacingAndGlyphs">GOLV KLINKER + 4.00</text>
<text x="320" y="413" font-size="4.3" fill="#555" font-weight="normal" textLength="63" lengthAdjust="spacingAndGlyphs">Nytt glasparti i befintl. vägg</text>
<text x="320" y="418" font-size="4.3" fill="#555" font-weight="normal" textLength="60" lengthAdjust="spacingAndGlyphs">med dörr i utrymningsväg</text>
<text x="317" y="621" font-size="4.3" fill="#555" font-weight="normal" textLength="63" lengthAdjust="spacingAndGlyphs">Nytt glasparti i befintl. vägg</text>
<text x="317" y="626" font-size="4.3" fill="#555" font-weight="normal" textLength="55" lengthAdjust="spacingAndGlyphs">med dörr i utrymningsväg</text>
<text x="319" y="500" font-size="5" fill="#333" font-weight="normal" textLength="42" lengthAdjust="spacingAndGlyphs">NYTT UNDERTAK</text>
<text x="324" y="510" font-size="9" fill="#444" font-weight="normal" textLength="38" lengthAdjust="spacingAndGlyphs">FOAJÉ</text>
<text x="267" y="488" font-size="6" fill="#444" font-weight="normal" textLength="14" lengthAdjust="spacingAndGlyphs">BALK</text>
<text x="1056" y="466" font-size="6" fill="#333" font-weight="bold" textLength="12" lengthAdjust="spacingAndGlyphs">11.10</text>
<text x="1053" y="661" font-size="6" fill="#333" font-weight="bold" textLength="11" lengthAdjust="spacingAndGlyphs">11.10</text>
</svg>
</body></html>
